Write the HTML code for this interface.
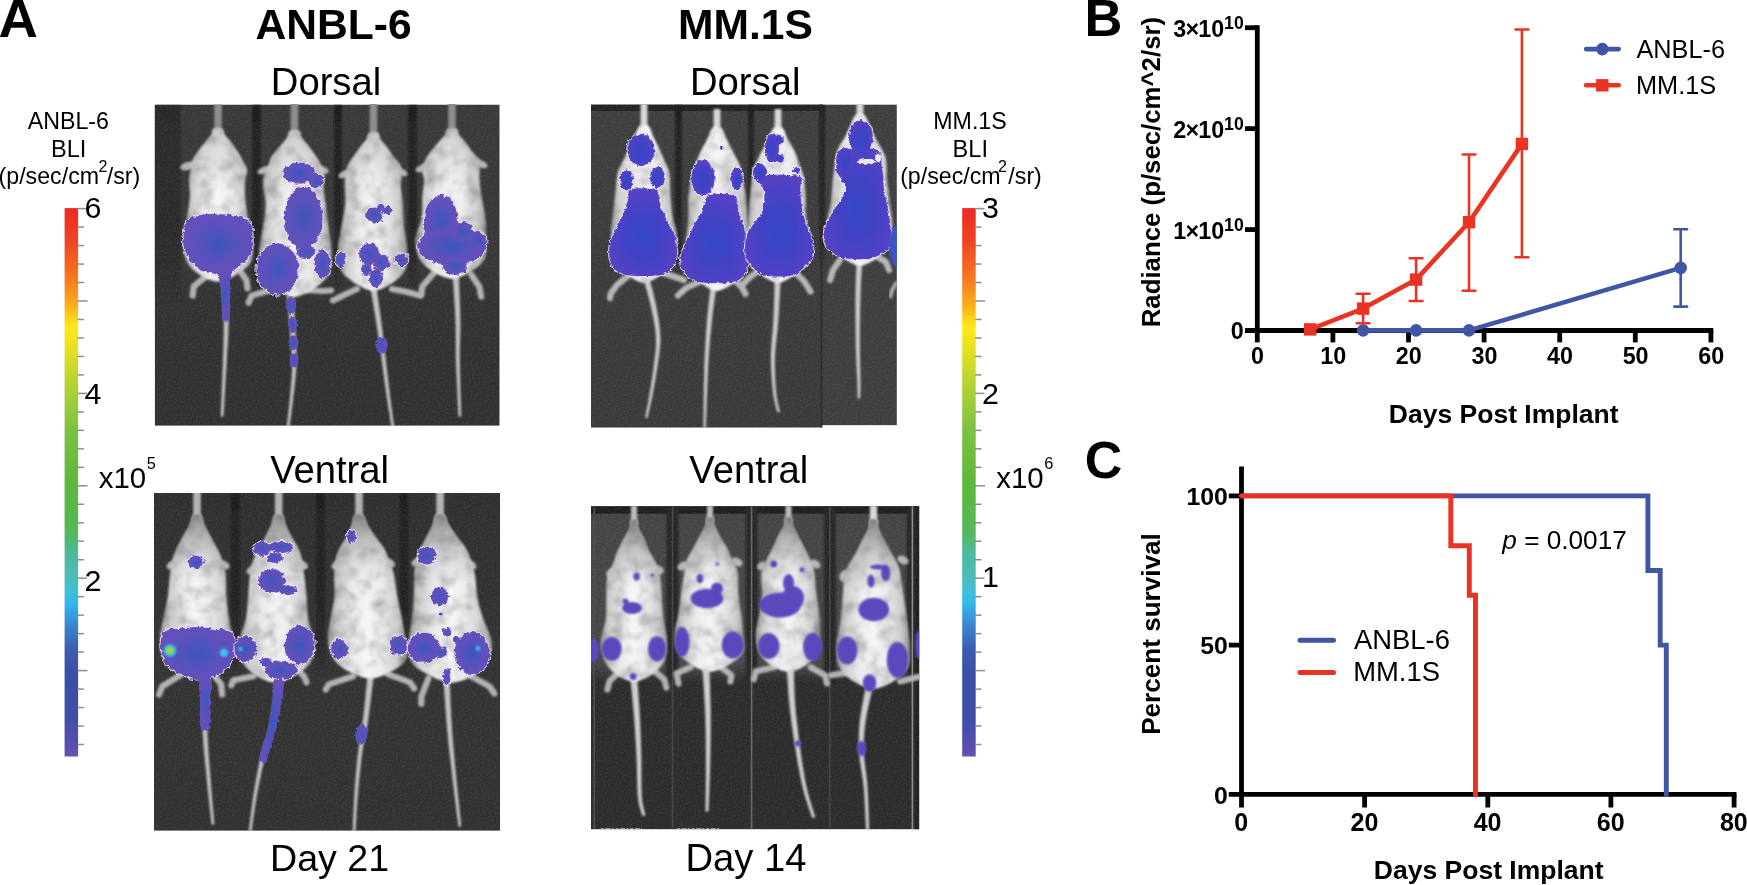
<!DOCTYPE html>
<html lang="en"><head><meta charset="utf-8"><title>ANBL-6 and MM.1S xenograft BLI</title>
<style>
html,body{margin:0;padding:0;background:#fff;}
body{width:1747px;height:885px;overflow:hidden;font-family:"Liberation Sans", sans-serif;}
svg{display:block;font-family:"Liberation Sans", sans-serif;}
text{fill:#000;}
</style></head><body>
<svg width="1747" height="885" viewBox="0 0 1747 885">
<defs>
<linearGradient id="cbar" x1="0" y1="0" x2="0" y2="1">
<stop offset="0" stop-color="#ec2a24"/>
<stop offset="0.06" stop-color="#ef4423"/>
<stop offset="0.13" stop-color="#f47a20"/>
<stop offset="0.18" stop-color="#fbb11a"/>
<stop offset="0.215" stop-color="#ffe81a"/>
<stop offset="0.26" stop-color="#e3e021"/>
<stop offset="0.32" stop-color="#b5d332"/>
<stop offset="0.40" stop-color="#7fc241"/>
<stop offset="0.50" stop-color="#5db83c"/>
<stop offset="0.59" stop-color="#56b858"/>
<stop offset="0.625" stop-color="#4fb89a"/>
<stop offset="0.67" stop-color="#4cbcb4"/>
<stop offset="0.70" stop-color="#3fbfd8"/>
<stop offset="0.721" stop-color="#30b8ea"/>
<stop offset="0.76" stop-color="#3b86cf"/>
<stop offset="0.805" stop-color="#3c5cb0"/>
<stop offset="0.85" stop-color="#3b4fa6"/>
<stop offset="0.93" stop-color="#3f4ea8"/>
<stop offset="0.975" stop-color="#554eb0"/>
<stop offset="1" stop-color="#6a4fb5"/>
</linearGradient>
<linearGradient id="mg" x1="0" y1="0" x2="1" y2="0">
<stop offset="0" stop-color="#9c9c9c"/><stop offset="0.12" stop-color="#cdcdcd"/><stop offset="0.32" stop-color="#ececec"/><stop offset="0.5" stop-color="#f6f6f6"/><stop offset="0.68" stop-color="#ececec"/><stop offset="0.88" stop-color="#cdcdcd"/><stop offset="1" stop-color="#9c9c9c"/>
</linearGradient>
<linearGradient id="mg2" x1="0" y1="0" x2="1" y2="0">
<stop offset="0" stop-color="#808080"/><stop offset="0.2" stop-color="#c2c2c2"/><stop offset="0.5" stop-color="#ebebeb"/><stop offset="0.8" stop-color="#c2c2c2"/><stop offset="1" stop-color="#808080"/>
</linearGradient>
<radialGradient id="pg" cx="0.5" cy="0.5" r="0.5">
<stop offset="0" stop-color="#3a58bf"/><stop offset="0.45" stop-color="#5452bd"/><stop offset="1" stop-color="#6650ba"/>
</radialGradient>
<filter id="fur" x="-8%" y="-8%" width="116%" height="116%">
<feTurbulence type="fractalNoise" baseFrequency="0.075" numOctaves="3" seed="11" result="n"/>
<feColorMatrix in="n" type="matrix" values="0.95 0 0 0 0.44  0.95 0 0 0 0.44  0.95 0 0 0 0.44  0 0 0 0 1" result="g"/>
<feBlend in="SourceGraphic" in2="g" mode="multiply" result="m"/>
<feComposite in="m" in2="SourceGraphic" operator="in" result="c"/>
<feGaussianBlur in="c" stdDeviation="1.3"/>
</filter>
<filter id="grain" x="0" y="0" width="100%" height="100%">
<feTurbulence type="fractalNoise" baseFrequency="0.55" numOctaves="2" seed="2" result="n"/>
<feColorMatrix in="n" type="matrix" values="0 0 0 0 1  0 0 0 0 1  0 0 0 0 1  1.6 0 0 0 -0.62"/>
</filter>
<filter id="soft" x="-10%" y="-10%" width="120%" height="120%"><feGaussianBlur stdDeviation="1.1"/></filter>
<filter id="soft2" x="-10%" y="-10%" width="120%" height="120%"><feGaussianBlur stdDeviation="0.8"/></filter>
<filter id="rough" x="-10%" y="-10%" width="120%" height="120%">
<feTurbulence type="fractalNoise" baseFrequency="0.25" numOctaves="2" seed="7" result="n"/>
<feDisplacementMap in="SourceGraphic" in2="n" scale="5.5" xChannelSelector="R" yChannelSelector="G"/>
<feGaussianBlur stdDeviation="0.5"/>
</filter>
<filter id="rough2" x="-10%" y="-10%" width="120%" height="120%">
<feTurbulence type="fractalNoise" baseFrequency="0.3" numOctaves="2" seed="3" result="n"/>
<feDisplacementMap in="SourceGraphic" in2="n" scale="4" xChannelSelector="R" yChannelSelector="G"/>
<feGaussianBlur stdDeviation="0.5"/>
</filter>
<linearGradient id="hs" x1="0" y1="0" x2="0" y2="1"><stop offset="0" stop-color="#4a4a4a" stop-opacity="0.85"/><stop offset="0.12" stop-color="#555" stop-opacity="0.55"/><stop offset="0.3" stop-color="#666" stop-opacity="0.18"/><stop offset="0.42" stop-color="#666" stop-opacity="0"/></linearGradient>
<linearGradient id="bg1" x1="0" y1="0" x2="0" y2="1"><stop offset="0" stop-color="#393939"/><stop offset="0.5" stop-color="#373737"/><stop offset="0.62" stop-color="#323232"/><stop offset="1" stop-color="#303030"/></linearGradient><linearGradient id="bg2" x1="0" y1="0" x2="0" y2="1"><stop offset="0" stop-color="#2f2f2f"/><stop offset="0.5" stop-color="#333"/><stop offset="1" stop-color="#313131"/></linearGradient>
<linearGradient id="stripe" x1="0" y1="0" x2="0" y2="1"><stop offset="0" stop-color="#1f1f1f"/><stop offset="0.8" stop-color="#262626"/><stop offset="1" stop-color="#262626" stop-opacity="0"/></linearGradient>
<linearGradient id="bg3" x1="0" y1="0" x2="0" y2="1"><stop offset="0" stop-color="#3f3f3f"/><stop offset="0.55" stop-color="#3b3b3b"/><stop offset="1" stop-color="#3a3a3a"/></linearGradient><radialGradient id="pg3" cx="0.5" cy="0.55" r="0.6"><stop offset="0" stop-color="#3346c4"/><stop offset="0.55" stop-color="#4642c6"/><stop offset="1" stop-color="#5a42c2"/></radialGradient><linearGradient id="bg4" x1="0" y1="0" x2="0" y2="1"><stop offset="0" stop-color="#444"/><stop offset="0.9" stop-color="#464646"/><stop offset="1" stop-color="#2c2c2c"/></linearGradient></defs>
<clipPath id="c1"><rect x="154.7" y="104.5" width="345.0" height="321.3"/></clipPath><g clip-path="url(#c1)">
<rect x="154.7" y="104.5" width="345.0" height="321.3" fill="url(#bg1)"/>
<rect x="252" y="104.5" width="9" height="190" fill="url(#stripe)" filter="url(#soft)"/>
<rect x="334" y="104.5" width="8" height="190" fill="url(#stripe)" filter="url(#soft)"/>
<rect x="408" y="104.5" width="9" height="190" fill="url(#stripe)" filter="url(#soft)"/>
<rect x="150.7" y="104.5" width="30" height="200" fill="url(#stripe)" opacity="0.55" filter="url(#soft)"/>
<rect x="154.7" y="104.5" width="345.0" height="321.3" filter="url(#grain)" opacity="0.1"/>
<g filter="url(#soft)">
<path d="M208.9,274.0 L193.7,286.4 L192.7,295.6" fill="none" stroke="#b2b2b2" stroke-width="6.2" stroke-linecap="round" stroke-linejoin="round"/>
<path d="M238.0,268.0 L246.5,280.3 L247.5,288.4" fill="none" stroke="#b2b2b2" stroke-width="6.2" stroke-linecap="round" stroke-linejoin="round"/>
<path d="M221.0,279.2 L221.2,281.2 L221.4,283.8 L221.7,286.8 L222.0,290.1 L222.2,293.8 L222.5,297.6 L222.8,301.6 L223.1,305.7 L223.3,309.7 L223.5,313.7 L223.6,317.5 L223.7,321.0 L223.8,324.4 L223.8,327.7 L223.8,330.9 L223.8,334.0 L223.7,337.2 L223.6,340.4 L223.5,343.6 L223.4,347.0 L223.3,350.4 L223.2,353.9 L223.0,357.6 L222.9,361.5 L222.8,365.8 L222.6,370.5 L222.4,375.5 L222.2,380.8 L221.9,386.2 L221.7,391.5 L221.5,396.7 L221.3,401.7 L221.1,406.2 L220.9,410.3 L220.8,413.7 L220.7,416.4 L223.5,416.6 L223.7,413.9 L223.9,410.4 L224.1,406.4 L224.4,401.8 L224.7,396.9 L225.0,391.7 L225.3,386.3 L225.6,381.0 L225.9,375.7 L226.2,370.6 L226.5,365.9 L226.7,361.7 L226.9,357.8 L227.1,354.1 L227.3,350.6 L227.6,347.2 L227.8,343.8 L228.0,340.6 L228.1,337.4 L228.3,334.2 L228.4,331.0 L228.5,327.7 L228.6,324.4 L228.7,321.0 L228.6,317.4 L228.6,313.5 L228.5,309.5 L228.4,305.4 L228.2,301.3 L228.1,297.3 L227.9,293.4 L227.7,289.8 L227.6,286.4 L227.5,283.4 L227.4,280.9 L227.4,278.8Z" fill="#c2c2c2"/>
<ellipse cx="188" cy="166" rx="8" ry="4" transform="rotate(-15 188 166)" fill="#b5b5b5"/>
<rect x="214.2" y="101.5" width="7.6" height="32.5" fill="#8e8e8e"/>
</g>
<path d="M213.5,129.0C211.6,130.0 212.5,132.8 211.1,135.1C209.6,137.4 207.1,139.8 204.8,142.7C202.5,145.6 199.2,149.5 197.2,152.6C195.1,155.6 193.4,158.0 192.3,160.9C191.2,163.8 191.1,166.7 190.6,170.0C190.0,173.3 189.2,176.1 189.1,180.7C189.0,185.2 190.3,190.8 189.9,197.4C189.5,204.0 187.7,212.9 186.5,220.2C185.4,227.5 183.2,234.6 183.2,241.5C183.2,248.3 183.9,255.8 186.5,261.2C189.1,266.7 194.4,270.9 198.9,274.2C203.4,277.5 209.6,279.9 213.5,281.0C217.4,282.1 218.6,282.1 222.5,281.0C226.4,279.9 232.3,277.5 237.1,274.2C241.9,270.9 248.6,266.7 251.2,261.2C253.9,255.8 253.2,248.3 252.8,241.5C252.3,234.6 249.6,227.5 248.3,220.2C247.1,212.9 245.6,204.0 245.1,197.4C244.5,190.8 244.8,185.2 245.1,180.7C245.5,176.1 247.4,173.3 247.1,170.0C246.7,166.7 244.3,163.8 242.8,160.9C241.3,158.0 240.1,155.6 238.2,152.6C236.2,149.5 233.4,145.6 231.2,142.7C229.0,139.8 226.4,137.4 224.9,135.1C223.5,132.8 224.4,130.0 222.5,129.0C220.6,128.0 215.4,128.0 213.5,129.0Z" fill="url(#mg)" filter="url(#fur)"/>
<path d="M213.5,129.0C211.6,130.0 212.5,132.8 211.1,135.1C209.6,137.4 207.1,139.8 204.8,142.7C202.5,145.6 199.2,149.5 197.2,152.6C195.1,155.6 193.4,158.0 192.3,160.9C191.2,163.8 191.1,166.7 190.6,170.0C190.0,173.3 189.2,176.1 189.1,180.7C189.0,185.2 190.3,190.8 189.9,197.4C189.5,204.0 187.7,212.9 186.5,220.2C185.4,227.5 183.2,234.6 183.2,241.5C183.2,248.3 183.9,255.8 186.5,261.2C189.1,266.7 194.4,270.9 198.9,274.2C203.4,277.5 209.6,279.9 213.5,281.0C217.4,282.1 218.6,282.1 222.5,281.0C226.4,279.9 232.3,277.5 237.1,274.2C241.9,270.9 248.6,266.7 251.2,261.2C253.9,255.8 253.2,248.3 252.8,241.5C252.3,234.6 249.6,227.5 248.3,220.2C247.1,212.9 245.6,204.0 245.1,197.4C244.5,190.8 244.8,185.2 245.1,180.7C245.5,176.1 247.4,173.3 247.1,170.0C246.7,166.7 244.3,163.8 242.8,160.9C241.3,158.0 240.1,155.6 238.2,152.6C236.2,149.5 233.4,145.6 231.2,142.7C229.0,139.8 226.4,137.4 224.9,135.1C223.5,132.8 224.4,130.0 222.5,129.0C220.6,128.0 215.4,128.0 213.5,129.0Z" fill="url(#hs)" opacity="0.3" filter="url(#soft)"/>
<g filter="url(#soft)">
<path d="M274.0,289.0 L251.6,295.6 L248.6,302.7" fill="none" stroke="#b2b2b2" stroke-width="6.2" stroke-linecap="round" stroke-linejoin="round"/>
<path d="M308.0,290.0 L322.0,291.0 L331.0,290.5" fill="none" stroke="#b2b2b2" stroke-width="6.2" stroke-linecap="round" stroke-linejoin="round"/>
<path d="M287.0,294.2 L287.2,296.6 L287.5,299.6 L287.8,303.2 L288.1,307.3 L288.5,311.7 L288.8,316.3 L289.2,321.0 L289.5,325.7 L289.9,330.2 L290.2,334.4 L290.5,338.2 L290.7,341.5 L290.9,344.3 L291.1,346.8 L291.3,349.1 L291.5,351.2 L291.6,353.1 L291.7,354.9 L291.9,356.7 L292.0,358.3 L292.0,360.0 L292.1,361.8 L292.1,363.7 L292.1,365.7 L292.1,367.7 L292.1,369.8 L292.0,371.8 L291.9,373.8 L291.8,375.9 L291.6,378.0 L291.5,380.1 L291.3,382.3 L291.1,384.5 L290.9,386.8 L290.7,389.3 L290.4,391.8 L290.2,394.6 L289.9,397.7 L289.5,401.0 L289.2,404.4 L288.8,407.9 L288.4,411.5 L288.0,414.9 L287.7,418.1 L287.3,421.1 L287.0,423.8 L286.8,426.1 L286.6,427.8 L289.4,428.2 L289.6,426.4 L289.9,424.1 L290.3,421.5 L290.7,418.5 L291.1,415.2 L291.5,411.8 L292.0,408.3 L292.4,404.8 L292.9,401.4 L293.3,398.0 L293.6,395.0 L294.0,392.2 L294.3,389.6 L294.5,387.2 L294.8,384.9 L295.1,382.6 L295.3,380.4 L295.5,378.3 L295.7,376.2 L295.9,374.1 L296.1,372.0 L296.2,370.0 L296.4,367.9 L296.5,365.7 L296.5,363.7 L296.6,361.8 L296.6,360.0 L296.6,358.2 L296.5,356.5 L296.5,354.7 L296.4,352.9 L296.4,350.9 L296.3,348.8 L296.1,346.5 L296.0,344.0 L295.9,341.1 L295.7,337.8 L295.6,334.0 L295.3,329.8 L295.1,325.3 L294.8,320.6 L294.5,315.9 L294.3,311.3 L294.0,306.9 L293.8,302.8 L293.6,299.2 L293.5,296.2 L293.4,293.8Z" fill="#c2c2c2"/>
<ellipse cx="265" cy="170" rx="8" ry="3.5" transform="rotate(-20 265 170)" fill="#b5b5b5"/>
<ellipse cx="323" cy="170" rx="6" ry="3.5" transform="rotate(20 323 170)" fill="#b5b5b5"/>
<rect x="290.7" y="101.5" width="7.6" height="34.5" fill="#8e8e8e"/>
</g>
<path d="M289.8,131.0C287.7,132.1 288.7,135.1 287.2,137.6C285.7,140.1 283.2,142.7 280.6,145.8C278.1,149.0 273.8,153.3 271.8,156.6C269.8,159.9 269.7,162.5 268.4,165.7C267.2,168.8 264.9,172.0 264.1,175.6C263.3,179.1 263.2,182.2 263.5,187.1C263.8,192.0 266.0,198.1 265.8,205.2C265.7,212.4 263.8,222.0 262.7,230.0C261.5,238.0 259.4,245.7 259.0,253.1C258.6,260.5 257.7,268.6 260.2,274.6C262.8,280.5 269.5,285.0 274.4,288.6C279.3,292.1 285.6,294.8 289.8,296.0C293.9,297.2 295.1,297.2 299.2,296.0C303.4,294.8 309.7,292.1 314.6,288.6C319.4,285.0 325.5,280.5 328.4,274.6C331.2,268.6 331.5,260.5 331.5,253.1C331.6,245.7 329.7,238.0 328.8,230.0C327.8,222.0 326.7,212.4 325.8,205.2C324.9,198.1 323.7,192.0 323.4,187.1C323.2,182.2 324.8,179.1 324.4,175.6C324.1,172.0 322.7,168.8 321.3,165.7C320.0,162.5 318.3,159.9 316.1,156.6C313.9,153.3 310.8,149.0 308.4,145.8C306.0,142.7 303.3,140.1 301.8,137.6C300.3,135.1 301.3,132.1 299.2,131.0C297.2,129.9 291.8,129.9 289.8,131.0Z" fill="url(#mg)" filter="url(#fur)"/>
<path d="M289.8,131.0C287.7,132.1 288.7,135.1 287.2,137.6C285.7,140.1 283.2,142.7 280.6,145.8C278.1,149.0 273.8,153.3 271.8,156.6C269.8,159.9 269.7,162.5 268.4,165.7C267.2,168.8 264.9,172.0 264.1,175.6C263.3,179.1 263.2,182.2 263.5,187.1C263.8,192.0 266.0,198.1 265.8,205.2C265.7,212.4 263.8,222.0 262.7,230.0C261.5,238.0 259.4,245.7 259.0,253.1C258.6,260.5 257.7,268.6 260.2,274.6C262.8,280.5 269.5,285.0 274.4,288.6C279.3,292.1 285.6,294.8 289.8,296.0C293.9,297.2 295.1,297.2 299.2,296.0C303.4,294.8 309.7,292.1 314.6,288.6C319.4,285.0 325.5,280.5 328.4,274.6C331.2,268.6 331.5,260.5 331.5,253.1C331.6,245.7 329.7,238.0 328.8,230.0C327.8,222.0 326.7,212.4 325.8,205.2C324.9,198.1 323.7,192.0 323.4,187.1C323.2,182.2 324.8,179.1 324.4,175.6C324.1,172.0 322.7,168.8 321.3,165.7C320.0,162.5 318.3,159.9 316.1,156.6C313.9,153.3 310.8,149.0 308.4,145.8C306.0,142.7 303.3,140.1 301.8,137.6C300.3,135.1 301.3,132.1 299.2,131.0C297.2,129.9 291.8,129.9 289.8,131.0Z" fill="url(#hs)" opacity="0.3" filter="url(#soft)"/>
<g filter="url(#soft)">
<path d="M357.0,289.0 L344.0,295.0 L333.0,300.6" fill="none" stroke="#b2b2b2" stroke-width="6.2" stroke-linecap="round" stroke-linejoin="round"/>
<path d="M392.0,289.0 L407.0,292.0 L420.0,295.6" fill="none" stroke="#b2b2b2" stroke-width="6.2" stroke-linecap="round" stroke-linejoin="round"/>
<path d="M370.3,288.5 L370.7,290.1 L371.0,292.1 L371.5,294.5 L371.9,297.1 L372.4,300.0 L373.0,303.0 L373.5,306.2 L374.0,309.4 L374.6,312.6 L375.1,315.7 L375.6,318.6 L376.0,321.4 L376.4,324.0 L376.8,326.5 L377.2,328.9 L377.6,331.3 L377.9,333.7 L378.3,336.0 L378.6,338.4 L379.0,340.9 L379.4,343.4 L379.8,346.1 L380.1,348.8 L380.6,351.7 L381.0,354.7 L381.4,357.9 L381.9,361.2 L382.3,364.6 L382.8,368.1 L383.2,371.6 L383.7,375.1 L384.2,378.7 L384.6,382.2 L385.1,385.6 L385.6,389.0 L386.0,392.2 L386.5,395.5 L387.0,398.9 L387.6,402.4 L388.1,405.9 L388.6,409.4 L389.2,412.8 L389.7,416.0 L390.1,419.1 L390.6,421.9 L391.0,424.4 L391.3,426.5 L391.6,428.2 L394.4,427.8 L394.2,426.1 L393.9,423.9 L393.5,421.4 L393.2,418.6 L392.7,415.6 L392.3,412.3 L391.8,408.9 L391.3,405.4 L390.9,401.9 L390.4,398.4 L390.0,395.0 L389.6,391.8 L389.2,388.5 L388.8,385.1 L388.3,381.7 L387.9,378.2 L387.5,374.7 L387.1,371.1 L386.7,367.6 L386.3,364.1 L386.0,360.7 L385.6,357.4 L385.2,354.2 L384.8,351.1 L384.5,348.2 L384.2,345.5 L383.9,342.8 L383.6,340.3 L383.3,337.8 L383.0,335.4 L382.7,333.0 L382.4,330.6 L382.1,328.2 L381.8,325.7 L381.5,323.2 L381.2,320.6 L380.8,317.8 L380.4,314.9 L380.0,311.7 L379.5,308.5 L379.1,305.3 L378.6,302.2 L378.2,299.1 L377.8,296.2 L377.4,293.5 L377.1,291.1 L376.8,289.1 L376.7,287.5Z" fill="#c2c2c2"/>
<ellipse cx="345" cy="174" rx="7" ry="3.5" transform="rotate(-25 345 174)" fill="#b5b5b5"/>
<ellipse cx="401" cy="172" rx="7" ry="3.5" transform="rotate(25 401 172)" fill="#b5b5b5"/>
<rect x="369.7" y="101.5" width="7.6" height="36.5" fill="#8e8e8e"/>
</g>
<path d="M368.9,133.0C367.0,134.0 368.0,136.9 366.5,139.3C365.0,141.6 362.4,144.1 360.2,147.1C358.0,150.1 355.2,154.2 353.0,157.3C350.9,160.5 348.8,163.0 347.6,166.0C346.3,169.0 345.9,172.0 345.5,175.4C345.0,178.8 344.8,181.7 344.8,186.4C344.8,191.1 345.9,196.8 345.4,203.7C344.8,210.5 342.7,219.6 341.5,227.2C340.3,234.8 338.2,242.1 338.0,249.2C337.8,256.2 337.7,264.0 340.4,269.6C343.1,275.2 349.5,279.5 354.2,282.9C359.0,286.3 365.0,288.8 368.9,290.0C372.9,291.2 374.1,291.2 378.1,290.0C382.0,288.8 388.2,286.3 392.8,282.9C397.3,279.5 402.9,275.2 405.2,269.6C407.6,264.0 407.2,256.2 406.9,249.2C406.7,242.1 404.6,234.8 403.9,227.2C403.3,219.6 403.4,210.5 402.9,203.7C402.3,196.8 401.1,191.1 400.9,186.4C400.7,181.7 401.6,178.8 401.6,175.4C401.6,172.0 402.1,169.0 400.9,166.0C399.6,163.0 396.4,160.5 394.1,157.3C391.7,154.2 389.1,150.1 386.8,147.1C384.5,144.1 382.0,141.6 380.5,139.3C379.0,136.9 380.0,134.0 378.1,133.0C376.1,132.0 370.9,132.0 368.9,133.0Z" fill="url(#mg)" filter="url(#fur)"/>
<path d="M368.9,133.0C367.0,134.0 368.0,136.9 366.5,139.3C365.0,141.6 362.4,144.1 360.2,147.1C358.0,150.1 355.2,154.2 353.0,157.3C350.9,160.5 348.8,163.0 347.6,166.0C346.3,169.0 345.9,172.0 345.5,175.4C345.0,178.8 344.8,181.7 344.8,186.4C344.8,191.1 345.9,196.8 345.4,203.7C344.8,210.5 342.7,219.6 341.5,227.2C340.3,234.8 338.2,242.1 338.0,249.2C337.8,256.2 337.7,264.0 340.4,269.6C343.1,275.2 349.5,279.5 354.2,282.9C359.0,286.3 365.0,288.8 368.9,290.0C372.9,291.2 374.1,291.2 378.1,290.0C382.0,288.8 388.2,286.3 392.8,282.9C397.3,279.5 402.9,275.2 405.2,269.6C407.6,264.0 407.2,256.2 406.9,249.2C406.7,242.1 404.6,234.8 403.9,227.2C403.3,219.6 403.4,210.5 402.9,203.7C402.3,196.8 401.1,191.1 400.9,186.4C400.7,181.7 401.6,178.8 401.6,175.4C401.6,172.0 402.1,169.0 400.9,166.0C399.6,163.0 396.4,160.5 394.1,157.3C391.7,154.2 389.1,150.1 386.8,147.1C384.5,144.1 382.0,141.6 380.5,139.3C379.0,136.9 380.0,134.0 378.1,133.0C376.1,132.0 370.9,132.0 368.9,133.0Z" fill="url(#hs)" opacity="0.3" filter="url(#soft)"/>
<g filter="url(#soft)">
<path d="M434.5,272.2 L422.3,286.4 L421.3,294.5" fill="none" stroke="#b2b2b2" stroke-width="6.2" stroke-linecap="round" stroke-linejoin="round"/>
<path d="M471.0,274.2 L479.2,286.4 L481.2,296.6" fill="none" stroke="#b2b2b2" stroke-width="6.2" stroke-linecap="round" stroke-linejoin="round"/>
<path d="M452.6,276.2 L452.8,278.3 L453.0,281.1 L453.3,284.3 L453.5,288.0 L453.8,291.9 L454.1,296.1 L454.4,300.4 L454.6,304.8 L454.9,309.1 L455.1,313.3 L455.3,317.3 L455.4,321.1 L455.6,324.5 L455.6,327.9 L455.7,331.1 L455.7,334.3 L455.7,337.5 L455.7,340.7 L455.7,343.9 L455.8,347.2 L455.8,350.5 L455.8,354.1 L455.9,357.8 L456.0,361.6 L456.1,365.9 L456.3,370.6 L456.5,375.7 L456.8,380.9 L457.0,386.3 L457.3,391.7 L457.5,396.9 L457.7,401.8 L458.0,406.4 L458.2,410.4 L458.4,413.9 L458.5,416.6 L461.3,416.4 L461.2,413.7 L461.1,410.3 L461.0,406.2 L460.9,401.7 L460.7,396.7 L460.5,391.5 L460.4,386.2 L460.2,380.8 L460.1,375.5 L460.0,370.5 L459.9,365.8 L459.8,361.6 L459.8,357.7 L459.8,354.0 L459.8,350.6 L459.9,347.2 L460.0,343.9 L460.1,340.7 L460.2,337.5 L460.2,334.3 L460.3,331.1 L460.4,327.8 L460.4,324.5 L460.4,320.9 L460.3,317.2 L460.2,313.1 L460.1,308.9 L459.9,304.5 L459.8,300.1 L459.6,295.8 L459.5,291.6 L459.3,287.7 L459.2,284.0 L459.1,280.8 L459.0,278.0 L459.0,275.8Z" fill="#c2c2c2"/>
<ellipse cx="423" cy="168" rx="8" ry="3.5" transform="rotate(-20 423 168)" fill="#b5b5b5"/>
<ellipse cx="481" cy="164" rx="7" ry="3.5" transform="rotate(25 481 164)" fill="#b5b5b5"/>
<rect x="448.2" y="101.5" width="7.6" height="32.5" fill="#8e8e8e"/>
</g>
<path d="M447.4,129.0C445.4,130.0 446.4,132.7 444.9,135.0C443.4,137.2 440.9,139.6 438.5,142.4C436.1,145.3 432.5,149.1 430.3,152.1C428.1,155.1 426.7,157.4 425.3,160.3C423.8,163.1 421.9,166.0 421.7,169.2C421.5,172.5 424.0,175.2 424.1,179.7C424.3,184.1 422.9,189.6 422.4,196.1C422.0,202.5 422.7,211.2 421.6,218.4C420.4,225.6 415.8,232.6 415.5,239.3C415.1,246.0 416.7,253.3 419.5,258.6C422.3,264.0 427.8,268.1 432.5,271.3C437.1,274.5 443.4,276.9 447.4,278.0C451.4,279.1 452.6,279.1 456.6,278.0C460.6,276.9 466.8,274.5 471.5,271.3C476.2,268.1 482.4,264.0 484.8,258.6C487.2,253.3 485.8,246.0 485.9,239.3C485.9,232.6 485.9,225.6 485.2,218.4C484.5,211.2 482.4,202.5 481.5,196.1C480.5,189.6 479.8,184.1 479.5,179.7C479.2,175.2 479.7,172.5 479.7,169.2C479.7,166.0 480.8,163.1 479.6,160.3C478.3,157.4 474.6,155.1 472.3,152.1C469.9,149.1 467.7,145.3 465.5,142.4C463.3,139.6 460.6,137.2 459.1,135.0C457.6,132.7 458.6,130.0 456.6,129.0C454.7,128.0 449.3,128.0 447.4,129.0Z" fill="url(#mg)" filter="url(#fur)"/>
<path d="M447.4,129.0C445.4,130.0 446.4,132.7 444.9,135.0C443.4,137.2 440.9,139.6 438.5,142.4C436.1,145.3 432.5,149.1 430.3,152.1C428.1,155.1 426.7,157.4 425.3,160.3C423.8,163.1 421.9,166.0 421.7,169.2C421.5,172.5 424.0,175.2 424.1,179.7C424.3,184.1 422.9,189.6 422.4,196.1C422.0,202.5 422.7,211.2 421.6,218.4C420.4,225.6 415.8,232.6 415.5,239.3C415.1,246.0 416.7,253.3 419.5,258.6C422.3,264.0 427.8,268.1 432.5,271.3C437.1,274.5 443.4,276.9 447.4,278.0C451.4,279.1 452.6,279.1 456.6,278.0C460.6,276.9 466.8,274.5 471.5,271.3C476.2,268.1 482.4,264.0 484.8,258.6C487.2,253.3 485.8,246.0 485.9,239.3C485.9,232.6 485.9,225.6 485.2,218.4C484.5,211.2 482.4,202.5 481.5,196.1C480.5,189.6 479.8,184.1 479.5,179.7C479.2,175.2 479.7,172.5 479.7,169.2C479.7,166.0 480.8,163.1 479.6,160.3C478.3,157.4 474.6,155.1 472.3,152.1C469.9,149.1 467.7,145.3 465.5,142.4C463.3,139.6 460.6,137.2 459.1,135.0C457.6,132.7 458.6,130.0 456.6,129.0C454.7,128.0 449.3,128.0 447.4,129.0Z" fill="url(#hs)" opacity="0.3" filter="url(#soft)"/>
<g filter="url(#rough)" fill="#e9dcf3" stroke="#e9dcf3" stroke-width="2.4" opacity="0.85"><path d="M186.0,224.0C188.1,220.5 191.2,217.7 196.0,216.0C200.8,214.3 208.3,214.0 215.0,214.0C221.7,214.0 230.2,214.7 236.0,216.0C241.8,217.3 247.2,218.0 250.0,222.0C252.8,226.0 252.5,234.5 252.5,240.0C252.5,245.5 252.1,250.7 250.0,255.0C247.9,259.3 243.5,263.0 240.0,266.0C236.5,269.0 234.8,272.0 229.0,273.0C223.2,274.0 211.2,273.8 205.0,272.0C198.8,270.2 195.4,265.7 192.0,262.0C188.6,258.3 185.9,254.2 184.5,250.0C183.1,245.8 183.2,241.3 183.5,237.0C183.8,232.7 183.9,227.5 186.0,224.0Z"/></g><g filter="url(#rough)" fill="url(#pg)"><path d="M186.0,224.0C188.1,220.5 191.2,217.7 196.0,216.0C200.8,214.3 208.3,214.0 215.0,214.0C221.7,214.0 230.2,214.7 236.0,216.0C241.8,217.3 247.2,218.0 250.0,222.0C252.8,226.0 252.5,234.5 252.5,240.0C252.5,245.5 252.1,250.7 250.0,255.0C247.9,259.3 243.5,263.0 240.0,266.0C236.5,269.0 234.8,272.0 229.0,273.0C223.2,274.0 211.2,273.8 205.0,272.0C198.8,270.2 195.4,265.7 192.0,262.0C188.6,258.3 185.9,254.2 184.5,250.0C183.1,245.8 183.2,241.3 183.5,237.0C183.8,232.7 183.9,227.5 186.0,224.0Z"/></g>
<g filter="url(#rough2)" fill="url(#pg)"><path d="M219.5,268.0C221.2,264.3 228.7,264.3 230.5,268.0C232.3,271.7 230.6,283.7 230.5,290.0C230.4,296.3 230.2,301.2 230.0,306.0C229.8,310.8 229.7,316.2 229.0,319.0C228.3,321.8 227.1,322.5 226.0,322.5C224.9,322.5 223.2,321.9 222.5,319.0C221.8,316.1 221.8,309.8 221.5,305.0C221.2,300.2 220.8,296.2 220.5,290.0C220.2,283.8 217.8,271.7 219.5,268.0Z"/></g>
<g filter="url(#rough)" fill="#e9dcf3" stroke="#e9dcf3" stroke-width="2.4" opacity="0.85"><ellipse cx="303.5" cy="218" rx="19" ry="31" transform="rotate(0 303.5 218)"/><ellipse cx="299" cy="173" rx="16" ry="10.5" transform="rotate(0 299 173)"/><ellipse cx="316" cy="181" rx="7.5" ry="7" transform="rotate(0 316 181)"/><ellipse cx="277.5" cy="269" rx="21" ry="25.5" transform="rotate(0 277.5 269)"/><ellipse cx="322.5" cy="264" rx="8" ry="14.5" transform="rotate(0 322.5 264)"/><ellipse cx="306" cy="252" rx="9" ry="7" transform="rotate(0 306 252)"/></g><g filter="url(#rough)" fill="url(#pg)"><ellipse cx="303.5" cy="218" rx="19" ry="31" transform="rotate(0 303.5 218)"/><ellipse cx="299" cy="173" rx="16" ry="10.5" transform="rotate(0 299 173)"/><ellipse cx="316" cy="181" rx="7.5" ry="7" transform="rotate(0 316 181)"/><ellipse cx="277.5" cy="269" rx="21" ry="25.5" transform="rotate(0 277.5 269)"/><ellipse cx="322.5" cy="264" rx="8" ry="14.5" transform="rotate(0 322.5 264)"/><ellipse cx="306" cy="252" rx="9" ry="7" transform="rotate(0 306 252)"/></g>
<g filter="url(#rough2)" fill="url(#pg)"><ellipse cx="291" cy="305" rx="5" ry="9" transform="rotate(0 291 305)"/><ellipse cx="292.5" cy="325" rx="4.8" ry="8" transform="rotate(0 292.5 325)"/><ellipse cx="293.5" cy="343" rx="4.6" ry="7.5" transform="rotate(0 293.5 343)"/><ellipse cx="294" cy="360" rx="4.4" ry="7.5" transform="rotate(0 294 360)"/></g>
<g filter="url(#rough)" fill="#e9dcf3" stroke="#e9dcf3" stroke-width="2.4" opacity="0.85"><ellipse cx="374.5" cy="215" rx="8.5" ry="7.5" transform="rotate(0 374.5 215)"/><ellipse cx="387" cy="210.5" rx="5" ry="4" transform="rotate(0 387 210.5)"/><ellipse cx="381" cy="207" rx="4" ry="3" transform="rotate(0 381 207)"/><ellipse cx="369" cy="254" rx="10" ry="11" transform="rotate(0 369 254)"/><ellipse cx="381" cy="262" rx="9" ry="8" transform="rotate(0 381 262)"/><ellipse cx="376" cy="278" rx="7" ry="9.5" transform="rotate(0 376 278)"/><ellipse cx="366" cy="270" rx="5" ry="6" transform="rotate(0 366 270)"/><ellipse cx="340.5" cy="260" rx="5" ry="8" transform="rotate(0 340.5 260)"/><ellipse cx="401.5" cy="260" rx="6.5" ry="6.5" transform="rotate(0 401.5 260)"/></g><g filter="url(#rough)" fill="url(#pg)"><ellipse cx="374.5" cy="215" rx="8.5" ry="7.5" transform="rotate(0 374.5 215)"/><ellipse cx="387" cy="210.5" rx="5" ry="4" transform="rotate(0 387 210.5)"/><ellipse cx="381" cy="207" rx="4" ry="3" transform="rotate(0 381 207)"/><ellipse cx="369" cy="254" rx="10" ry="11" transform="rotate(0 369 254)"/><ellipse cx="381" cy="262" rx="9" ry="8" transform="rotate(0 381 262)"/><ellipse cx="376" cy="278" rx="7" ry="9.5" transform="rotate(0 376 278)"/><ellipse cx="366" cy="270" rx="5" ry="6" transform="rotate(0 366 270)"/><ellipse cx="340.5" cy="260" rx="5" ry="8" transform="rotate(0 340.5 260)"/><ellipse cx="401.5" cy="260" rx="6.5" ry="6.5" transform="rotate(0 401.5 260)"/></g>
<g filter="url(#rough2)" fill="url(#pg)"><ellipse cx="381.8" cy="345.3" rx="6" ry="8.5" transform="rotate(0 381.8 345.3)"/></g>
<g filter="url(#rough)" fill="#e9dcf3" stroke="#e9dcf3" stroke-width="2.4" opacity="0.85"><ellipse cx="441" cy="222" rx="17" ry="27" transform="rotate(0 441 222)"/><ellipse cx="452" cy="246" rx="34" ry="19" transform="rotate(0 452 246)"/><ellipse cx="478" cy="241" rx="8.5" ry="10" transform="rotate(0 478 241)"/><ellipse cx="455" cy="266" rx="12" ry="9" transform="rotate(0 455 266)"/><ellipse cx="463" cy="232" rx="10" ry="10" transform="rotate(0 463 232)"/></g><g filter="url(#rough)" fill="url(#pg)"><ellipse cx="441" cy="222" rx="17" ry="27" transform="rotate(0 441 222)"/><ellipse cx="452" cy="246" rx="34" ry="19" transform="rotate(0 452 246)"/><ellipse cx="478" cy="241" rx="8.5" ry="10" transform="rotate(0 478 241)"/><ellipse cx="455" cy="266" rx="12" ry="9" transform="rotate(0 455 266)"/><ellipse cx="463" cy="232" rx="10" ry="10" transform="rotate(0 463 232)"/></g>
</g>
<clipPath id="c2"><rect x="154.0" y="493.0" width="346.2" height="337.79999999999995"/></clipPath><g clip-path="url(#c2)">
<rect x="154.0" y="493.0" width="346.2" height="337.79999999999995" fill="url(#bg2)"/>
<rect x="231" y="493.0" width="9" height="185" fill="url(#stripe)" filter="url(#soft)"/>
<rect x="316" y="493.0" width="9" height="185" fill="url(#stripe)" filter="url(#soft)"/>
<rect x="399.5" y="493.0" width="9" height="185" fill="url(#stripe)" filter="url(#soft)"/>
<rect x="154.0" y="493.0" width="346.2" height="337.79999999999995" filter="url(#grain)" opacity="0.1"/>
<g filter="url(#soft)">
<path d="M180.5,675.2 L162.2,686.4 L159.1,694.5" fill="none" stroke="#b2b2b2" stroke-width="6.2" stroke-linecap="round" stroke-linejoin="round"/>
<path d="M215.0,676.3 L221.1,684.4 L222.1,694.5" fill="none" stroke="#b2b2b2" stroke-width="6.2" stroke-linecap="round" stroke-linejoin="round"/>
<path d="M201.7,677.0 L201.8,679.5 L201.8,682.6 L201.9,686.3 L201.9,690.4 L201.9,694.9 L201.9,699.7 L201.9,704.6 L201.9,709.7 L202.0,714.7 L202.1,719.7 L202.3,724.5 L202.4,729.1 L202.7,733.5 L203.0,738.0 L203.3,742.6 L203.7,747.1 L204.1,751.7 L204.5,756.3 L204.9,760.8 L205.3,765.2 L205.8,769.6 L206.2,773.9 L206.6,778.1 L207.0,782.2 L207.4,786.2 L207.8,790.4 L208.3,794.5 L208.7,798.7 L209.1,802.8 L209.6,806.8 L210.0,810.6 L210.4,814.1 L210.7,817.3 L211.1,820.2 L211.4,822.7 L211.6,824.7 L214.4,824.5 L214.2,822.4 L214.0,819.9 L213.8,817.0 L213.5,813.8 L213.2,810.2 L212.8,806.5 L212.5,802.5 L212.1,798.4 L211.8,794.2 L211.4,790.0 L211.1,785.9 L210.8,781.8 L210.5,777.8 L210.2,773.6 L209.8,769.3 L209.5,764.9 L209.1,760.4 L208.8,755.9 L208.5,751.4 L208.2,746.8 L207.9,742.3 L207.7,737.8 L207.5,733.3 L207.4,728.9 L207.3,724.4 L207.2,719.6 L207.2,714.7 L207.3,709.7 L207.3,704.6 L207.4,699.7 L207.5,695.0 L207.6,690.5 L207.8,686.4 L207.9,682.7 L208.0,679.5 L208.1,677.0Z" fill="#c2c2c2"/>
<ellipse cx="172" cy="565" rx="6" ry="4" transform="rotate(-30 172 565)" fill="#b5b5b5"/>
<ellipse cx="224" cy="565" rx="6" ry="4" transform="rotate(30 224 565)" fill="#b5b5b5"/>
<rect x="193.2" y="490.0" width="7.6" height="30.0" fill="#b4b4b4"/>
</g>
<path d="M193.0,515.0C191.1,516.6 191.3,521.2 189.7,524.8C188.1,528.3 185.3,532.4 183.2,536.2C181.1,540.0 178.9,543.8 177.1,547.6C175.4,551.4 173.8,554.7 172.7,559.0C171.5,563.4 170.9,567.4 170.1,573.7C169.3,579.9 168.9,589.4 167.9,596.5C166.8,603.6 165.2,609.0 163.9,616.1C162.6,623.1 160.2,631.8 160.0,638.9C159.9,645.9 160.3,653.0 163.1,658.4C165.9,663.9 172.1,668.2 176.9,671.5C181.8,674.7 188.1,676.9 192.3,678.0C196.4,679.1 197.6,679.1 201.7,678.0C205.9,676.9 212.1,674.7 217.1,671.5C222.1,668.2 229.2,663.9 231.7,658.4C234.2,653.0 232.6,645.9 232.1,638.9C231.5,631.8 229.4,623.1 228.5,616.1C227.5,609.0 226.9,603.6 226.4,596.5C226.0,589.4 226.4,579.9 225.6,573.7C224.8,567.4 223.2,563.4 221.7,559.0C220.2,554.7 218.4,551.4 216.5,547.6C214.6,543.8 212.2,540.0 210.2,536.2C208.1,532.4 205.8,528.3 204.3,524.8C202.8,521.2 202.9,516.6 201.0,515.0C199.1,513.4 194.9,513.4 193.0,515.0Z" fill="url(#mg)" filter="url(#fur)"/>
<path d="M193.0,515.0C191.1,516.6 191.3,521.2 189.7,524.8C188.1,528.3 185.3,532.4 183.2,536.2C181.1,540.0 178.9,543.8 177.1,547.6C175.4,551.4 173.8,554.7 172.7,559.0C171.5,563.4 170.9,567.4 170.1,573.7C169.3,579.9 168.9,589.4 167.9,596.5C166.8,603.6 165.2,609.0 163.9,616.1C162.6,623.1 160.2,631.8 160.0,638.9C159.9,645.9 160.3,653.0 163.1,658.4C165.9,663.9 172.1,668.2 176.9,671.5C181.8,674.7 188.1,676.9 192.3,678.0C196.4,679.1 197.6,679.1 201.7,678.0C205.9,676.9 212.1,674.7 217.1,671.5C222.1,668.2 229.2,663.9 231.7,658.4C234.2,653.0 232.6,645.9 232.1,638.9C231.5,631.8 229.4,623.1 228.5,616.1C227.5,609.0 226.9,603.6 226.4,596.5C226.0,589.4 226.4,579.9 225.6,573.7C224.8,567.4 223.2,563.4 221.7,559.0C220.2,554.7 218.4,551.4 216.5,547.6C214.6,543.8 212.2,540.0 210.2,536.2C208.1,532.4 205.8,528.3 204.3,524.8C202.8,521.2 202.9,516.6 201.0,515.0C199.1,513.4 194.9,513.4 193.0,515.0Z" fill="url(#hs)" opacity="0.75" filter="url(#soft)"/>
<g filter="url(#soft)">
<path d="M253.6,676.3 L233.3,680.3 L231.3,685.4" fill="none" stroke="#b2b2b2" stroke-width="6.2" stroke-linecap="round" stroke-linejoin="round"/>
<path d="M300.4,672.2 L304.5,677.0 L306.5,682.4" fill="none" stroke="#b2b2b2" stroke-width="6.2" stroke-linecap="round" stroke-linejoin="round"/>
<path d="M275.8,680.5 L275.6,682.8 L275.2,685.8 L274.8,689.2 L274.3,693.1 L273.8,697.3 L273.2,701.7 L272.6,706.2 L271.9,710.7 L271.3,715.1 L270.6,719.2 L270.0,723.1 L269.4,726.5 L268.7,729.5 L268.0,732.3 L267.3,734.9 L266.6,737.4 L265.9,739.8 L265.1,742.2 L264.3,744.5 L263.6,746.9 L262.8,749.3 L262.1,751.7 L261.4,754.3 L260.7,757.0 L260.1,759.7 L259.4,762.5 L258.8,765.3 L258.2,768.1 L257.7,770.9 L257.1,773.8 L256.6,776.7 L256.0,779.6 L255.5,782.6 L255.0,785.6 L254.5,788.6 L254.0,791.7 L253.4,795.0 L252.9,798.6 L252.4,802.3 L251.9,806.2 L251.3,810.1 L250.8,813.9 L250.4,817.7 L249.9,821.2 L249.5,824.5 L249.2,827.4 L248.9,829.9 L248.6,831.8 L251.4,832.2 L251.7,830.2 L252.1,827.8 L252.5,824.9 L252.9,821.6 L253.4,818.1 L254.0,814.4 L254.5,810.5 L255.1,806.6 L255.7,802.8 L256.3,799.1 L256.9,795.5 L257.4,792.3 L258.0,789.2 L258.6,786.2 L259.2,783.2 L259.8,780.3 L260.4,777.4 L261.0,774.6 L261.6,771.7 L262.2,768.9 L262.9,766.2 L263.5,763.4 L264.2,760.7 L264.9,758.0 L265.6,755.5 L266.4,753.0 L267.1,750.7 L267.9,748.3 L268.8,746.1 L269.6,743.7 L270.4,741.4 L271.3,738.9 L272.1,736.3 L272.9,733.6 L273.7,730.7 L274.4,727.5 L275.2,724.1 L275.9,720.2 L276.7,715.9 L277.4,711.5 L278.1,707.0 L278.8,702.5 L279.5,698.1 L280.2,693.9 L280.7,690.0 L281.3,686.6 L281.7,683.7 L282.2,681.5Z" fill="#c2c2c2"/>
<ellipse cx="252" cy="570" rx="6" ry="4" transform="rotate(-30 252 570)" fill="#b5b5b5"/>
<ellipse cx="302.5" cy="565" rx="6" ry="4" transform="rotate(30 302.5 565)" fill="#b5b5b5"/>
<rect x="274.9" y="490.0" width="7.6" height="30.0" fill="#b4b4b4"/>
</g>
<path d="M274.7,515.0C272.8,516.7 272.8,521.4 271.3,525.0C269.8,528.6 267.7,532.8 265.6,536.7C263.6,540.6 261.0,544.5 258.9,548.4C256.9,552.3 254.8,555.6 253.3,560.1C251.8,564.5 250.8,568.7 250.0,575.1C249.1,581.5 248.7,591.3 248.0,598.5C247.3,605.7 247.4,611.3 246.0,618.5C244.6,625.8 240.1,634.7 239.5,641.9C239.0,649.2 239.9,656.4 242.6,662.0C245.2,667.5 251.0,672.0 255.7,675.3C260.3,678.7 266.6,680.9 270.6,682.0C274.7,683.1 275.9,683.1 280.0,682.0C284.1,680.9 290.1,678.7 295.3,675.3C300.4,672.0 307.7,667.5 310.7,662.0C313.8,656.4 314.2,649.2 313.8,641.9C313.3,634.7 309.2,625.8 308.0,618.5C306.8,611.3 307.4,605.7 306.7,598.5C306.1,591.3 305.0,581.5 304.2,575.1C303.4,568.7 302.9,564.5 301.9,560.1C301.0,555.6 300.1,552.3 298.3,548.4C296.6,544.5 293.5,540.6 291.4,536.7C289.2,532.8 287.1,528.6 285.7,525.0C284.2,521.4 284.5,516.7 282.6,515.0C280.8,513.3 276.6,513.3 274.7,515.0Z" fill="url(#mg)" filter="url(#fur)"/>
<path d="M274.7,515.0C272.8,516.7 272.8,521.4 271.3,525.0C269.8,528.6 267.7,532.8 265.6,536.7C263.6,540.6 261.0,544.5 258.9,548.4C256.9,552.3 254.8,555.6 253.3,560.1C251.8,564.5 250.8,568.7 250.0,575.1C249.1,581.5 248.7,591.3 248.0,598.5C247.3,605.7 247.4,611.3 246.0,618.5C244.6,625.8 240.1,634.7 239.5,641.9C239.0,649.2 239.9,656.4 242.6,662.0C245.2,667.5 251.0,672.0 255.7,675.3C260.3,678.7 266.6,680.9 270.6,682.0C274.7,683.1 275.9,683.1 280.0,682.0C284.1,680.9 290.1,678.7 295.3,675.3C300.4,672.0 307.7,667.5 310.7,662.0C313.8,656.4 314.2,649.2 313.8,641.9C313.3,634.7 309.2,625.8 308.0,618.5C306.8,611.3 307.4,605.7 306.7,598.5C306.1,591.3 305.0,581.5 304.2,575.1C303.4,568.7 302.9,564.5 301.9,560.1C301.0,555.6 300.1,552.3 298.3,548.4C296.6,544.5 293.5,540.6 291.4,536.7C289.2,532.8 287.1,528.6 285.7,525.0C284.2,521.4 284.5,516.7 282.6,515.0C280.8,513.3 276.6,513.3 274.7,515.0Z" fill="url(#hs)" opacity="0.75" filter="url(#soft)"/>
<g filter="url(#soft)">
<path d="M353.2,676.3 L328.8,684.4 L325.8,689.5" fill="none" stroke="#b2b2b2" stroke-width="6.2" stroke-linecap="round" stroke-linejoin="round"/>
<path d="M387.8,674.2 L410.1,682.4 L414.2,688.4" fill="none" stroke="#b2b2b2" stroke-width="6.2" stroke-linecap="round" stroke-linejoin="round"/>
<path d="M367.3,676.6 L367.2,678.8 L366.9,681.6 L366.6,684.9 L366.2,688.6 L365.8,692.6 L365.4,696.8 L365.0,701.1 L364.5,705.4 L364.1,709.6 L363.6,713.6 L363.2,717.3 L362.8,720.6 L362.4,723.6 L362.0,726.3 L361.6,728.9 L361.2,731.3 L360.8,733.7 L360.4,736.0 L360.0,738.3 L359.6,740.6 L359.3,743.0 L358.9,745.6 L358.5,748.2 L358.2,751.1 L357.8,754.2 L357.5,757.3 L357.1,760.6 L356.8,764.0 L356.5,767.4 L356.2,770.9 L355.9,774.4 L355.6,778.0 L355.3,781.5 L355.0,785.0 L354.8,788.5 L354.5,791.9 L354.3,795.4 L354.1,799.1 L353.9,802.9 L353.7,806.8 L353.5,810.6 L353.3,814.5 L353.2,818.1 L353.0,821.6 L352.9,824.8 L352.8,827.6 L352.7,830.0 L352.6,831.9 L355.4,832.1 L355.5,830.1 L355.7,827.7 L355.9,824.9 L356.1,821.7 L356.3,818.3 L356.5,814.6 L356.7,810.8 L357.0,807.0 L357.2,803.1 L357.5,799.3 L357.8,795.6 L358.1,792.1 L358.4,788.8 L358.7,785.3 L359.0,781.8 L359.4,778.3 L359.7,774.8 L360.1,771.3 L360.5,767.8 L360.8,764.4 L361.2,761.1 L361.6,757.8 L362.0,754.7 L362.4,751.7 L362.9,748.9 L363.3,746.2 L363.7,743.8 L364.2,741.4 L364.6,739.1 L365.1,736.9 L365.6,734.6 L366.1,732.2 L366.6,729.7 L367.0,727.1 L367.5,724.4 L368.0,721.4 L368.5,718.0 L369.0,714.3 L369.5,710.2 L370.0,706.0 L370.6,701.7 L371.1,697.4 L371.6,693.2 L372.1,689.2 L372.6,685.6 L373.0,682.3 L373.4,679.5 L373.7,677.4Z" fill="#c2c2c2"/>
<ellipse cx="337" cy="565" rx="6" ry="4" transform="rotate(-30 337 565)" fill="#b5b5b5"/>
<ellipse cx="389.5" cy="563" rx="6" ry="4" transform="rotate(30 389.5 563)" fill="#b5b5b5"/>
<rect x="355.2" y="490.0" width="7.6" height="30.0" fill="#b4b4b4"/>
</g>
<path d="M354.7,515.0C352.8,516.6 353.2,521.2 351.9,524.8C350.6,528.3 348.9,532.4 346.9,536.2C345.0,540.0 342.0,543.8 340.2,547.6C338.3,551.4 336.7,554.7 335.7,559.0C334.7,563.4 334.4,567.4 334.1,573.7C333.9,579.9 335.0,589.4 334.5,596.5C334.0,603.6 332.2,609.0 331.1,616.1C330.1,623.1 327.6,631.8 328.0,638.9C328.4,645.9 330.0,653.0 333.4,658.4C336.8,663.9 343.2,668.2 348.5,671.5C353.8,674.7 360.8,676.9 365.3,678.0C369.8,679.1 371.1,679.1 375.5,678.0C379.8,676.9 386.2,674.7 391.4,671.5C396.6,668.2 404.2,663.9 406.5,658.4C408.8,653.0 406.0,645.9 405.2,638.9C404.3,631.8 402.8,623.1 401.5,616.1C400.1,609.0 398.6,603.6 397.3,596.5C396.0,589.4 395.1,579.9 393.7,573.7C392.2,567.4 390.3,563.4 388.6,559.0C386.9,554.7 385.7,551.4 383.4,547.6C381.1,543.8 377.5,540.0 374.8,536.2C372.2,532.4 369.4,528.3 367.5,524.8C365.6,521.2 365.4,516.6 363.3,515.0C361.2,513.4 356.6,513.4 354.7,515.0Z" fill="url(#mg)" filter="url(#fur)"/>
<path d="M354.7,515.0C352.8,516.6 353.2,521.2 351.9,524.8C350.6,528.3 348.9,532.4 346.9,536.2C345.0,540.0 342.0,543.8 340.2,547.6C338.3,551.4 336.7,554.7 335.7,559.0C334.7,563.4 334.4,567.4 334.1,573.7C333.9,579.9 335.0,589.4 334.5,596.5C334.0,603.6 332.2,609.0 331.1,616.1C330.1,623.1 327.6,631.8 328.0,638.9C328.4,645.9 330.0,653.0 333.4,658.4C336.8,663.9 343.2,668.2 348.5,671.5C353.8,674.7 360.8,676.9 365.3,678.0C369.8,679.1 371.1,679.1 375.5,678.0C379.8,676.9 386.2,674.7 391.4,671.5C396.6,668.2 404.2,663.9 406.5,658.4C408.8,653.0 406.0,645.9 405.2,638.9C404.3,631.8 402.8,623.1 401.5,616.1C400.1,609.0 398.6,603.6 397.3,596.5C396.0,589.4 395.1,579.9 393.7,573.7C392.2,567.4 390.3,563.4 388.6,559.0C386.9,554.7 385.7,551.4 383.4,547.6C381.1,543.8 377.5,540.0 374.8,536.2C372.2,532.4 369.4,528.3 367.5,524.8C365.6,521.2 365.4,516.6 363.3,515.0C361.2,513.4 356.6,513.4 354.7,515.0Z" fill="url(#hs)" opacity="0.75" filter="url(#soft)"/>
<g filter="url(#soft)">
<path d="M428.4,678.3 L421.3,696.6 L421.3,703.7" fill="none" stroke="#b2b2b2" stroke-width="6.2" stroke-linecap="round" stroke-linejoin="round"/>
<path d="M471.0,676.3 L489.4,686.4 L494.4,693.5" fill="none" stroke="#b2b2b2" stroke-width="6.2" stroke-linecap="round" stroke-linejoin="round"/>
<path d="M443.5,682.2 L443.7,684.5 L444.0,687.5 L444.2,690.9 L444.5,694.8 L444.8,699.0 L445.1,703.5 L445.4,708.1 L445.8,712.9 L446.1,717.6 L446.5,722.3 L446.9,726.9 L447.3,731.2 L447.7,735.4 L448.1,739.7 L448.5,744.0 L449.0,748.3 L449.5,752.7 L450.0,757.0 L450.5,761.3 L451.0,765.6 L451.5,769.9 L452.0,774.1 L452.4,778.2 L452.9,782.2 L453.4,786.3 L453.9,790.5 L454.4,794.8 L455.0,799.2 L455.5,803.5 L456.0,807.7 L456.5,811.7 L457.0,815.5 L457.5,818.9 L457.9,822.0 L458.2,824.6 L458.5,826.8 L461.3,826.4 L461.1,824.3 L460.8,821.6 L460.5,818.6 L460.1,815.1 L459.7,811.3 L459.3,807.3 L458.9,803.1 L458.4,798.8 L458.0,794.4 L457.5,790.1 L457.1,785.9 L456.7,781.8 L456.3,777.8 L455.9,773.6 L455.5,769.4 L455.1,765.2 L454.7,760.9 L454.3,756.6 L453.9,752.2 L453.5,747.9 L453.1,743.5 L452.8,739.2 L452.4,735.0 L452.1,730.8 L451.9,726.5 L451.6,722.0 L451.3,717.3 L451.1,712.5 L450.9,707.8 L450.6,703.2 L450.5,698.7 L450.3,694.5 L450.1,690.6 L450.0,687.1 L449.9,684.2 L449.9,681.8Z" fill="#c2c2c2"/>
<ellipse cx="417" cy="562" rx="6" ry="4" transform="rotate(-30 417 562)" fill="#b5b5b5"/>
<ellipse cx="471" cy="565" rx="6" ry="4" transform="rotate(30 471 565)" fill="#b5b5b5"/>
<rect x="436.3" y="490.0" width="7.6" height="30.0" fill="#b4b4b4"/>
</g>
<path d="M435.6,515.0C433.6,516.7 434.2,521.4 432.7,525.0C431.2,528.6 428.8,532.8 426.8,536.7C424.8,540.6 422.5,544.5 420.7,548.4C419.0,552.3 417.2,555.6 416.1,560.1C415.0,564.5 414.7,568.7 414.3,575.1C413.9,581.5 414.1,591.3 413.7,598.5C413.4,605.7 412.9,611.3 412.1,618.5C411.3,625.8 409.1,634.7 409.0,641.9C408.9,649.2 408.2,656.4 411.6,662.0C414.9,667.5 423.3,672.0 429.2,675.3C435.0,678.7 442.0,680.9 446.7,682.0C451.3,683.1 452.7,683.1 457.2,682.0C461.7,680.9 468.6,678.7 473.7,675.3C478.8,672.0 484.9,667.5 487.8,662.0C490.8,656.4 492.2,649.2 491.5,641.9C490.7,634.7 485.4,625.8 483.1,618.5C480.8,611.3 478.9,605.7 477.5,598.5C476.2,591.3 476.1,581.5 474.9,575.1C473.8,568.7 472.4,564.5 470.9,560.1C469.3,555.6 468.1,552.3 465.7,548.4C463.4,544.5 459.7,540.6 456.9,536.7C454.1,532.8 450.9,528.6 448.9,525.0C446.8,521.4 446.7,516.7 444.5,515.0C442.3,513.3 437.6,513.3 435.6,515.0Z" fill="url(#mg)" filter="url(#fur)"/>
<path d="M435.6,515.0C433.6,516.7 434.2,521.4 432.7,525.0C431.2,528.6 428.8,532.8 426.8,536.7C424.8,540.6 422.5,544.5 420.7,548.4C419.0,552.3 417.2,555.6 416.1,560.1C415.0,564.5 414.7,568.7 414.3,575.1C413.9,581.5 414.1,591.3 413.7,598.5C413.4,605.7 412.9,611.3 412.1,618.5C411.3,625.8 409.1,634.7 409.0,641.9C408.9,649.2 408.2,656.4 411.6,662.0C414.9,667.5 423.3,672.0 429.2,675.3C435.0,678.7 442.0,680.9 446.7,682.0C451.3,683.1 452.7,683.1 457.2,682.0C461.7,680.9 468.6,678.7 473.7,675.3C478.8,672.0 484.9,667.5 487.8,662.0C490.8,656.4 492.2,649.2 491.5,641.9C490.7,634.7 485.4,625.8 483.1,618.5C480.8,611.3 478.9,605.7 477.5,598.5C476.2,591.3 476.1,581.5 474.9,575.1C473.8,568.7 472.4,564.5 470.9,560.1C469.3,555.6 468.1,552.3 465.7,548.4C463.4,544.5 459.7,540.6 456.9,536.7C454.1,532.8 450.9,528.6 448.9,525.0C446.8,521.4 446.7,516.7 444.5,515.0C442.3,513.3 437.6,513.3 435.6,515.0Z" fill="url(#hs)" opacity="0.75" filter="url(#soft)"/>
<g filter="url(#rough)" fill="#e9dcf3" stroke="#e9dcf3" stroke-width="2.4" opacity="0.85"><ellipse cx="196.3" cy="562" rx="7.5" ry="6.5" transform="rotate(0 196.3 562)"/></g><g filter="url(#rough)" fill="url(#pg)"><ellipse cx="196.3" cy="562" rx="7.5" ry="6.5" transform="rotate(0 196.3 562)"/></g>
<g filter="url(#rough)" fill="#e9dcf3" stroke="#e9dcf3" stroke-width="2.4" opacity="0.85"><path d="M161.0,640.0C161.7,635.8 162.8,631.8 166.0,630.0C169.2,628.2 174.8,629.5 180.0,629.0C185.2,628.5 191.2,627.0 197.0,627.0C202.8,627.0 209.5,628.3 215.0,629.0C220.5,629.7 226.7,628.3 230.0,631.0C233.3,633.7 234.7,640.2 235.0,645.0C235.3,649.8 234.2,655.5 232.0,660.0C229.8,664.5 225.7,669.0 222.0,672.0C218.3,675.0 213.8,676.7 210.0,678.0C206.2,679.3 203.2,680.3 199.0,680.0C194.8,679.7 189.8,678.0 185.0,676.0C180.2,674.0 173.8,671.5 170.0,668.0C166.2,664.5 163.5,659.7 162.0,655.0C160.5,650.3 160.3,644.2 161.0,640.0Z"/></g><g filter="url(#rough)" fill="url(#pg)"><path d="M161.0,640.0C161.7,635.8 162.8,631.8 166.0,630.0C169.2,628.2 174.8,629.5 180.0,629.0C185.2,628.5 191.2,627.0 197.0,627.0C202.8,627.0 209.5,628.3 215.0,629.0C220.5,629.7 226.7,628.3 230.0,631.0C233.3,633.7 234.7,640.2 235.0,645.0C235.3,649.8 234.2,655.5 232.0,660.0C229.8,664.5 225.7,669.0 222.0,672.0C218.3,675.0 213.8,676.7 210.0,678.0C206.2,679.3 203.2,680.3 199.0,680.0C194.8,679.7 189.8,678.0 185.0,676.0C180.2,674.0 173.8,671.5 170.0,668.0C166.2,664.5 163.5,659.7 162.0,655.0C160.5,650.3 160.3,644.2 161.0,640.0Z"/></g>
<g filter="url(#rough2)" fill="url(#pg)"><path d="M199.5,676.0C201.3,672.0 209.2,672.0 211.0,676.0C212.8,680.0 210.7,691.7 210.5,700.0C210.3,708.3 210.8,720.9 210.0,726.0C209.2,731.1 207.1,730.5 205.5,730.5C203.9,730.5 201.4,731.1 200.5,726.0C199.6,720.9 200.2,708.3 200.0,700.0C199.8,691.7 197.7,680.0 199.5,676.0Z"/></g>
<circle cx="169.9" cy="650.5" r="6.5" fill="#35b8e6" filter="url(#soft2)"/><circle cx="169.9" cy="650.5" r="3.8" fill="#a6d23a" filter="url(#soft2)"/>
<circle cx="224" cy="652.7" r="4.2" fill="#39c3ee" filter="url(#soft2)"/>
<g filter="url(#rough)" fill="#e9dcf3" stroke="#e9dcf3" stroke-width="2.4" opacity="0.85"><ellipse cx="262" cy="549" rx="9" ry="7" transform="rotate(0 262 549)"/><ellipse cx="281" cy="547" rx="12" ry="6" transform="rotate(0 281 547)"/><ellipse cx="275" cy="558" rx="8" ry="5" transform="rotate(0 275 558)"/><ellipse cx="272" cy="581" rx="13" ry="12" transform="rotate(0 272 581)"/><ellipse cx="288" cy="590" rx="9" ry="5" transform="rotate(0 288 590)"/></g><g filter="url(#rough)" fill="url(#pg)"><ellipse cx="262" cy="549" rx="9" ry="7" transform="rotate(0 262 549)"/><ellipse cx="281" cy="547" rx="12" ry="6" transform="rotate(0 281 547)"/><ellipse cx="275" cy="558" rx="8" ry="5" transform="rotate(0 275 558)"/><ellipse cx="272" cy="581" rx="13" ry="12" transform="rotate(0 272 581)"/><ellipse cx="288" cy="590" rx="9" ry="5" transform="rotate(0 288 590)"/></g>
<g filter="url(#rough)" fill="#e9dcf3" stroke="#e9dcf3" stroke-width="2.4" opacity="0.85"><ellipse cx="245.5" cy="649" rx="11" ry="13" transform="rotate(0 245.5 649)"/><ellipse cx="299.5" cy="645" rx="15" ry="19" transform="rotate(0 299.5 645)"/><ellipse cx="281" cy="670" rx="16" ry="9" transform="rotate(0 281 670)"/><ellipse cx="266" cy="662" rx="6" ry="4" transform="rotate(0 266 662)"/></g><g filter="url(#rough)" fill="url(#pg)"><ellipse cx="245.5" cy="649" rx="11" ry="13" transform="rotate(0 245.5 649)"/><ellipse cx="299.5" cy="645" rx="15" ry="19" transform="rotate(0 299.5 645)"/><ellipse cx="281" cy="670" rx="16" ry="9" transform="rotate(0 281 670)"/><ellipse cx="266" cy="662" rx="6" ry="4" transform="rotate(0 266 662)"/></g>
<g filter="url(#rough2)" fill="url(#pg)"><path d="M274.0,682.0C276.0,678.2 282.9,677.3 284.0,682.0C285.1,686.7 281.8,702.0 280.5,710.0C279.2,718.0 277.8,723.3 276.0,730.0C274.2,736.7 271.7,744.7 270.0,750.0C268.3,755.3 267.8,760.3 266.0,762.0C264.2,763.7 260.0,762.8 259.5,760.0C259.0,757.2 261.6,750.5 263.0,745.0C264.4,739.5 266.5,733.7 268.0,727.0C269.5,720.3 271.0,712.5 272.0,705.0C273.0,697.5 272.0,685.8 274.0,682.0Z"/></g>
<circle cx="240.5" cy="649" r="2.2" fill="#39c3ee" filter="url(#soft2)"/>
<g filter="url(#rough)" fill="#e9dcf3" stroke="#e9dcf3" stroke-width="2.4" opacity="0.85"><ellipse cx="351.6" cy="536.3" rx="4.5" ry="6.5" transform="rotate(0 351.6 536.3)"/><ellipse cx="339.5" cy="648.7" rx="8.5" ry="10" transform="rotate(0 339.5 648.7)"/><ellipse cx="398.5" cy="645.5" rx="9" ry="10" transform="rotate(0 398.5 645.5)"/></g><g filter="url(#rough)" fill="url(#pg)"><ellipse cx="351.6" cy="536.3" rx="4.5" ry="6.5" transform="rotate(0 351.6 536.3)"/><ellipse cx="339.5" cy="648.7" rx="8.5" ry="10" transform="rotate(0 339.5 648.7)"/><ellipse cx="398.5" cy="645.5" rx="9" ry="10" transform="rotate(0 398.5 645.5)"/></g>
<g filter="url(#rough2)" fill="url(#pg)"><ellipse cx="361.3" cy="734.2" rx="6" ry="10.5" transform="rotate(8 361.3 734.2)"/></g>
<g filter="url(#rough)" fill="#e9dcf3" stroke="#e9dcf3" stroke-width="2.4" opacity="0.85"><ellipse cx="427" cy="555.5" rx="9.5" ry="9" transform="rotate(0 427 555.5)"/><ellipse cx="439.5" cy="596.2" rx="8.8" ry="9" transform="rotate(0 439.5 596.2)"/><ellipse cx="423.4" cy="647.7" rx="15.4" ry="15" transform="rotate(0 423.4 647.7)"/><ellipse cx="440" cy="652" rx="7" ry="6" transform="rotate(0 440 652)"/><ellipse cx="472" cy="653" rx="17.5" ry="21" transform="rotate(0 472 653)"/><ellipse cx="447" cy="677" rx="4" ry="8" transform="rotate(0 447 677)"/><ellipse cx="447" cy="632" rx="4" ry="5" transform="rotate(0 447 632)"/><ellipse cx="456" cy="640" rx="3" ry="4" transform="rotate(0 456 640)"/><ellipse cx="441" cy="614" rx="1.6" ry="1.6" transform="rotate(0 441 614)"/></g><g filter="url(#rough)" fill="url(#pg)"><ellipse cx="427" cy="555.5" rx="9.5" ry="9" transform="rotate(0 427 555.5)"/><ellipse cx="439.5" cy="596.2" rx="8.8" ry="9" transform="rotate(0 439.5 596.2)"/><ellipse cx="423.4" cy="647.7" rx="15.4" ry="15" transform="rotate(0 423.4 647.7)"/><ellipse cx="440" cy="652" rx="7" ry="6" transform="rotate(0 440 652)"/><ellipse cx="472" cy="653" rx="17.5" ry="21" transform="rotate(0 472 653)"/><ellipse cx="447" cy="677" rx="4" ry="8" transform="rotate(0 447 677)"/><ellipse cx="447" cy="632" rx="4" ry="5" transform="rotate(0 447 632)"/><ellipse cx="456" cy="640" rx="3" ry="4" transform="rotate(0 456 640)"/><ellipse cx="441" cy="614" rx="1.6" ry="1.6" transform="rotate(0 441 614)"/></g>
<circle cx="478" cy="648.4" r="2.4" fill="#39c3ee" filter="url(#soft2)"/>
</g>
<clipPath id="c3"><rect x="591.0" y="104.4" width="305.79999999999995" height="323.29999999999995"/></clipPath><g clip-path="url(#c3)">
<rect x="591.0" y="104.4" width="231.2" height="323.29999999999995" fill="url(#bg3)"/>
<rect x="822" y="104.4" width="75" height="321" fill="#3e3e3e"/>
<rect x="822" y="425.4" width="76" height="4" fill="#fff"/>
<rect x="591.0" y="104.4" width="231.2" height="6.5" fill="#222"/>
<rect x="675" y="104.4" width="7" height="170" fill="url(#stripe)" filter="url(#soft)"/>
<rect x="748" y="104.4" width="6" height="170" fill="url(#stripe)" filter="url(#soft)"/>
<rect x="819" y="104.4" width="6" height="170" fill="url(#stripe)" filter="url(#soft)"/>
<rect x="820.8" y="104.4" width="1.6" height="323.29999999999995" fill="#2a2a2a"/>
<rect x="591.0" y="104.4" width="305.79999999999995" height="323.29999999999995" filter="url(#grain)" opacity="0.1"/>
<g filter="url(#soft)">
<path d="M630.5,273.8 L617.0,285.0 L610.7,293.6 L610.0,298.0" fill="none" stroke="#b6b6b6" stroke-width="6.2" stroke-linecap="round" stroke-linejoin="round"/>
<path d="M660.0,272.0 L672.0,276.0 L684.0,280.0" fill="none" stroke="#b6b6b6" stroke-width="6.2" stroke-linecap="round" stroke-linejoin="round"/>
<path d="M643.3,278.8 L643.8,280.3 L644.3,282.2 L645.0,284.4 L645.7,287.0 L646.5,289.7 L647.3,292.6 L648.1,295.5 L648.9,298.6 L649.7,301.6 L650.4,304.5 L651.1,307.3 L651.7,309.9 L652.2,312.4 L652.7,314.9 L653.2,317.4 L653.7,319.8 L654.1,322.2 L654.5,324.6 L654.9,327.0 L655.2,329.4 L655.5,331.8 L655.7,334.2 L655.9,336.6 L656.0,339.0 L656.0,341.5 L656.0,343.9 L655.9,346.3 L655.7,348.8 L655.5,351.3 L655.3,353.8 L655.0,356.3 L654.7,358.8 L654.3,361.3 L654.0,363.8 L653.7,366.3 L653.4,368.8 L653.1,371.3 L652.7,373.8 L652.4,376.4 L652.0,379.0 L651.6,381.6 L651.2,384.1 L650.8,386.7 L650.3,389.1 L649.9,391.6 L649.5,393.9 L649.2,396.1 L648.8,398.2 L648.5,400.3 L648.1,402.3 L647.7,404.3 L647.4,406.2 L647.0,408.0 L646.7,409.8 L646.3,411.5 L646.0,413.0 L645.8,414.5 L645.5,415.7 L645.3,416.8 L645.1,417.8 L647.5,418.2 L647.7,417.3 L647.9,416.3 L648.2,415.0 L648.6,413.6 L648.9,412.0 L649.3,410.4 L649.7,408.6 L650.1,406.7 L650.5,404.8 L651.0,402.8 L651.4,400.8 L651.8,398.8 L652.2,396.7 L652.6,394.4 L653.1,392.1 L653.5,389.7 L654.0,387.2 L654.5,384.7 L654.9,382.1 L655.4,379.5 L655.8,376.9 L656.2,374.3 L656.6,371.8 L657.0,369.2 L657.4,366.8 L657.8,364.3 L658.2,361.8 L658.5,359.3 L658.9,356.8 L659.3,354.2 L659.6,351.7 L659.8,349.2 L660.1,346.6 L660.3,344.1 L660.4,341.5 L660.4,339.0 L660.3,336.4 L660.2,333.9 L660.1,331.4 L659.8,328.9 L659.5,326.4 L659.2,323.9 L658.9,321.5 L658.5,319.0 L658.1,316.5 L657.6,314.0 L657.2,311.4 L656.7,308.9 L656.2,306.2 L655.6,303.3 L654.9,300.3 L654.2,297.2 L653.5,294.2 L652.7,291.1 L652.0,288.2 L651.3,285.5 L650.6,282.9 L650.1,280.7 L649.6,278.8 L649.3,277.2Z" fill="#cacaca"/>
<rect x="640.6" y="103" width="6.8" height="28.0" fill="#d8d8d8"/>
</g>
<path d="M639.5,126.0C637.2,127.8 636.2,133.0 634.4,136.9C632.6,140.8 630.6,145.2 628.6,149.4C626.6,153.6 624.3,158.0 622.5,161.9C620.6,165.8 618.8,167.9 617.6,172.8C616.5,177.7 616.3,184.2 615.5,191.5C614.7,198.8 613.6,208.7 612.8,216.5C612.0,224.3 610.6,231.0 610.8,238.3C611.0,245.6 611.2,254.2 613.8,260.2C616.4,266.1 622.1,270.6 626.4,274.2C630.7,277.8 636.2,280.7 639.8,282.0C643.5,283.3 644.5,283.3 648.2,282.0C651.8,280.7 657.5,277.8 661.6,274.2C665.7,270.6 669.9,266.1 672.6,260.2C675.2,254.2 677.5,245.6 677.4,238.3C677.4,231.0 673.6,224.3 672.4,216.5C671.2,208.7 670.7,198.8 670.2,191.5C669.7,184.2 670.2,177.7 669.3,172.8C668.5,167.9 666.7,165.8 665.0,161.9C663.4,158.0 661.5,153.6 659.6,149.4C657.7,145.2 655.4,140.8 653.6,136.9C651.8,133.0 650.8,127.8 648.5,126.0C646.1,124.2 641.9,124.2 639.5,126.0Z" fill="url(#mg)" filter="url(#fur)"/>
<g filter="url(#soft)">
<path d="M699.0,282.0 L686.0,288.0 L678.0,295.6" fill="none" stroke="#b6b6b6" stroke-width="6.2" stroke-linecap="round" stroke-linejoin="round"/>
<path d="M734.0,280.0 L742.0,287.0 L745.5,294.0" fill="none" stroke="#b6b6b6" stroke-width="6.2" stroke-linecap="round" stroke-linejoin="round"/>
<path d="M710.7,283.6 L710.6,285.3 L710.4,287.4 L710.1,289.9 L709.8,292.6 L709.5,295.6 L709.2,298.8 L708.8,302.2 L708.4,305.6 L708.1,309.0 L707.7,312.5 L707.4,315.8 L707.1,319.1 L706.9,322.2 L706.6,325.5 L706.4,328.7 L706.1,332.0 L705.9,335.4 L705.7,338.7 L705.5,342.1 L705.3,345.5 L705.1,348.8 L704.9,352.2 L704.7,355.6 L704.6,358.9 L704.5,362.2 L704.3,365.6 L704.2,369.1 L704.2,372.5 L704.1,375.9 L704.0,379.3 L703.9,382.7 L703.9,386.0 L703.8,389.3 L703.8,392.5 L703.8,395.5 L703.7,398.5 L703.7,401.4 L703.6,404.3 L703.6,407.2 L703.6,410.1 L703.5,413.0 L703.5,415.7 L703.5,418.3 L703.5,420.7 L703.5,422.9 L703.5,424.9 L703.5,426.6 L703.5,428.0 L705.9,428.0 L706.0,426.6 L706.0,424.9 L706.1,423.0 L706.2,420.7 L706.2,418.3 L706.3,415.7 L706.4,413.0 L706.5,410.2 L706.6,407.3 L706.7,404.4 L706.8,401.4 L706.9,398.5 L707.0,395.6 L707.1,392.5 L707.2,389.4 L707.3,386.1 L707.5,382.8 L707.6,379.4 L707.7,376.0 L707.9,372.6 L708.0,369.2 L708.2,365.8 L708.4,362.4 L708.6,359.1 L708.8,355.8 L709.1,352.5 L709.3,349.1 L709.6,345.8 L709.9,342.4 L710.1,339.1 L710.4,335.7 L710.8,332.4 L711.1,329.1 L711.4,325.9 L711.7,322.7 L712.1,319.5 L712.4,316.4 L712.8,313.0 L713.2,309.6 L713.7,306.2 L714.2,302.8 L714.6,299.5 L715.1,296.3 L715.5,293.3 L715.9,290.6 L716.3,288.2 L716.6,286.1 L716.9,284.4Z" fill="#cacaca"/>
<rect x="713.6" y="109" width="6.8" height="24.0" fill="#d8d8d8"/>
</g>
<path d="M712.5,128.0C710.1,129.9 709.3,135.3 707.2,139.3C705.2,143.4 702.2,148.0 700.2,152.3C698.2,156.6 696.8,161.2 695.4,165.3C694.0,169.3 692.9,171.5 691.7,176.6C690.6,181.7 689.2,188.5 688.6,196.0C687.9,203.6 688.5,213.9 688.1,222.0C687.6,230.1 685.9,237.1 685.6,244.6C685.3,252.2 683.9,261.1 686.1,267.3C688.4,273.5 694.7,278.1 699.1,281.9C703.6,285.7 709.1,288.6 712.8,290.0C716.5,291.4 717.5,291.4 721.2,290.0C724.9,288.6 730.7,285.7 734.9,281.9C739.0,278.1 743.6,273.5 746.1,267.3C748.5,261.1 749.3,252.2 749.6,244.6C749.8,237.1 748.3,230.1 747.6,222.0C746.9,213.9 746.6,203.6 745.6,196.0C744.7,188.5 742.8,181.7 741.8,176.6C740.8,171.5 741.2,169.3 739.8,165.3C738.3,161.2 735.3,156.6 733.2,152.3C731.0,148.0 728.7,143.4 726.8,139.3C724.8,135.3 723.9,129.9 721.5,128.0C719.2,126.1 714.8,126.1 712.5,128.0Z" fill="url(#mg)" filter="url(#fur)"/>
<g filter="url(#soft)">
<path d="M760.0,270.0 L750.0,277.0 L741.5,285.7" fill="none" stroke="#b6b6b6" stroke-width="6.2" stroke-linecap="round" stroke-linejoin="round"/>
<path d="M794.6,272.0 L804.0,281.0 L810.5,291.6" fill="none" stroke="#b6b6b6" stroke-width="6.2" stroke-linecap="round" stroke-linejoin="round"/>
<path d="M774.7,275.9 L774.7,278.0 L774.7,280.6 L774.6,283.8 L774.5,287.2 L774.4,291.0 L774.3,295.1 L774.2,299.2 L774.0,303.4 L773.9,307.6 L773.7,311.7 L773.6,315.5 L773.4,319.1 L773.2,322.6 L773.0,326.0 L772.8,329.4 L772.5,332.7 L772.2,336.1 L771.9,339.4 L771.7,342.7 L771.4,346.0 L771.2,349.3 L771.0,352.6 L770.9,355.8 L770.9,359.0 L770.9,362.2 L771.0,365.4 L771.1,368.6 L771.3,371.9 L771.5,375.1 L771.7,378.2 L771.9,381.3 L772.2,384.3 L772.5,387.1 L772.7,389.8 L773.0,392.3 L773.3,394.7 L773.6,396.9 L774.0,398.9 L774.4,400.9 L774.8,402.7 L775.2,404.4 L775.6,406.0 L776.0,407.4 L776.4,408.7 L776.8,409.9 L777.1,410.9 L777.4,411.8 L777.6,412.6 L780.0,412.0 L779.8,411.2 L779.6,410.2 L779.3,409.2 L779.0,408.0 L778.7,406.7 L778.3,405.3 L778.0,403.7 L777.6,402.1 L777.3,400.3 L777.0,398.4 L776.7,396.4 L776.5,394.3 L776.3,392.0 L776.0,389.5 L775.8,386.8 L775.6,384.0 L775.4,381.0 L775.3,378.0 L775.1,374.9 L775.0,371.7 L774.9,368.5 L774.9,365.3 L774.9,362.2 L774.9,359.0 L775.0,355.9 L775.2,352.8 L775.4,349.6 L775.7,346.4 L776.0,343.1 L776.4,339.8 L776.7,336.5 L777.1,333.2 L777.5,329.8 L777.8,326.4 L778.1,322.9 L778.4,319.5 L778.6,315.8 L778.9,311.9 L779.1,307.8 L779.3,303.6 L779.6,299.4 L779.8,295.3 L780.0,291.3 L780.2,287.5 L780.4,284.0 L780.6,280.9 L780.7,278.2 L780.9,276.1Z" fill="#cacaca"/>
<rect x="774.6" y="109" width="6.8" height="24.0" fill="#d8d8d8"/>
</g>
<path d="M773.5,128.0C771.2,129.8 770.4,134.9 768.4,138.8C766.4,142.6 763.8,147.0 761.8,151.1C759.7,155.2 757.6,159.6 756.0,163.4C754.5,167.3 753.4,169.3 752.5,174.2C751.5,179.1 751.0,185.5 750.3,192.7C749.6,199.9 748.9,209.6 748.3,217.3C747.7,225.0 746.9,231.7 746.7,238.9C746.5,246.1 745.0,254.5 747.3,260.4C749.6,266.3 756.0,270.7 760.4,274.3C764.8,277.9 770.2,280.7 773.8,282.0C777.5,283.3 778.5,283.3 782.2,282.0C785.8,280.7 791.2,277.9 795.6,274.3C800.0,270.7 806.1,266.3 808.4,260.4C810.7,254.5 809.8,246.1 809.4,238.9C809.1,231.7 807.0,225.0 806.4,217.3C805.7,209.6 805.9,199.9 805.4,192.7C804.9,185.5 804.3,179.1 803.3,174.2C802.2,169.3 800.6,167.3 799.1,163.4C797.6,159.6 796.4,155.2 794.5,151.1C792.6,147.0 789.6,142.6 787.6,138.8C785.6,134.9 784.8,129.8 782.5,128.0C780.1,126.2 775.9,126.2 773.5,128.0Z" fill="url(#mg)" filter="url(#fur)"/>
<g filter="url(#soft)">
<path d="M840.0,260.0 L833.0,270.0 L830.2,280.0" fill="none" stroke="#b6b6b6" stroke-width="6.2" stroke-linecap="round" stroke-linejoin="round"/>
<path d="M878.0,257.0 L886.0,262.0 L889.0,270.0" fill="none" stroke="#b6b6b6" stroke-width="6.2" stroke-linecap="round" stroke-linejoin="round"/>
<path d="M856.4,257.9 L856.4,259.9 L856.4,262.3 L856.3,265.2 L856.2,268.4 L856.1,271.9 L856.0,275.6 L855.8,279.5 L855.7,283.5 L855.6,287.6 L855.5,291.7 L855.5,295.7 L855.4,299.6 L855.4,303.5 L855.4,307.5 L855.4,311.8 L855.4,316.1 L855.5,320.4 L855.5,324.8 L855.6,329.1 L855.6,333.4 L855.7,337.6 L855.7,341.6 L855.8,345.4 L855.9,349.0 L856.0,352.4 L856.1,355.8 L856.2,359.0 L856.3,362.1 L856.5,365.1 L856.6,368.0 L856.7,370.7 L856.9,373.4 L857.0,375.9 L857.1,378.3 L857.2,380.5 L857.3,382.6 L857.4,384.6 L857.4,386.5 L857.5,388.2 L857.5,389.8 L857.5,391.3 L857.6,392.6 L857.6,393.9 L857.6,395.0 L857.6,396.0 L857.6,397.0 L857.7,397.8 L857.7,398.5 L860.1,398.5 L860.1,397.8 L860.2,397.0 L860.2,396.1 L860.3,395.1 L860.3,393.9 L860.4,392.7 L860.4,391.3 L860.4,389.8 L860.5,388.2 L860.5,386.4 L860.5,384.6 L860.5,382.6 L860.5,380.4 L860.4,378.2 L860.4,375.8 L860.3,373.2 L860.3,370.6 L860.2,367.8 L860.1,365.0 L860.1,362.0 L860.0,358.9 L860.0,355.7 L859.9,352.4 L859.9,349.0 L859.9,345.4 L859.9,341.6 L859.9,337.6 L859.9,333.4 L859.9,329.1 L860.0,324.8 L860.0,320.4 L860.1,316.1 L860.1,311.8 L860.2,307.6 L860.3,303.5 L860.4,299.6 L860.5,295.8 L860.6,291.8 L860.8,287.8 L861.0,283.7 L861.2,279.7 L861.4,275.8 L861.7,272.1 L861.9,268.6 L862.1,265.4 L862.3,262.6 L862.4,260.1 L862.6,258.1Z" fill="#cacaca"/>
<rect x="856.6" y="97" width="6.8" height="23.0" fill="#d8d8d8"/>
</g>
<path d="M855.5,115.0C853.2,116.8 852.2,121.8 850.4,125.5C848.6,129.2 846.9,133.5 844.8,137.5C842.6,141.5 839.0,145.8 837.4,149.5C835.9,153.2 836.3,155.2 835.5,160.0C834.8,164.8 833.7,171.0 833.0,178.0C832.2,185.0 832.0,194.5 831.0,202.0C830.1,209.5 827.1,216.0 827.0,223.0C827.0,230.0 828.3,238.2 830.9,244.0C833.4,249.8 838.2,254.0 842.4,257.5C846.6,261.0 852.2,263.8 855.8,265.0C859.5,266.2 860.5,266.2 864.2,265.0C867.8,263.8 873.5,261.0 877.6,257.5C881.7,254.0 886.1,249.8 888.6,244.0C891.1,238.2 892.3,230.0 892.5,223.0C892.7,216.0 890.8,209.5 889.9,202.0C889.0,194.5 887.6,185.0 887.0,178.0C886.3,171.0 887.0,164.8 886.1,160.0C885.3,155.2 883.8,153.2 882.0,149.5C880.2,145.8 877.3,141.5 875.3,137.5C873.2,133.5 871.4,129.2 869.6,125.5C867.8,121.8 866.8,116.8 864.5,115.0C862.1,113.2 857.9,113.2 855.5,115.0Z" fill="url(#mg)" filter="url(#fur)"/>
<g filter="url(#rough2)" fill="#e9dcf3" stroke="#e9dcf3" stroke-width="2.4" opacity="0.85"><path d="M631.0,189.5C626.5,191.2 629.2,196.1 628.0,200.0C626.8,203.9 625.7,208.8 624.0,213.0C622.3,217.2 619.9,221.2 618.0,225.0C616.1,228.8 613.9,232.3 612.6,235.6C611.3,238.9 610.6,242.0 610.0,245.0C609.4,248.0 609.0,250.7 609.2,253.7C609.4,256.7 609.7,260.1 611.0,263.0C612.3,265.9 613.8,268.9 617.0,271.0C620.2,273.1 623.2,274.8 630.0,275.5C636.8,276.2 651.5,276.2 658.0,275.5C664.5,274.8 666.2,273.1 669.0,271.0C671.8,268.9 673.7,265.9 675.0,263.0C676.3,260.1 676.8,256.7 677.0,253.7C677.2,250.7 676.9,248.0 676.5,245.0C676.1,242.0 676.0,238.9 674.8,235.6C673.5,232.3 670.9,228.8 669.0,225.0C667.1,221.2 665.2,217.2 663.5,213.0C661.8,208.8 660.4,203.9 659.0,200.0C657.6,196.1 659.7,191.2 655.0,189.5C650.3,187.8 635.5,187.8 631.0,189.5Z"/><ellipse cx="641" cy="150" rx="13.5" ry="16" transform="rotate(0 641 150)"/><ellipse cx="626.5" cy="180" rx="6.5" ry="10.5" transform="rotate(0 626.5 180)"/><ellipse cx="657.5" cy="177.5" rx="7.5" ry="10.5" transform="rotate(0 657.5 177.5)"/></g><g filter="url(#rough2)" fill="url(#pg3)"><path d="M631.0,189.5C626.5,191.2 629.2,196.1 628.0,200.0C626.8,203.9 625.7,208.8 624.0,213.0C622.3,217.2 619.9,221.2 618.0,225.0C616.1,228.8 613.9,232.3 612.6,235.6C611.3,238.9 610.6,242.0 610.0,245.0C609.4,248.0 609.0,250.7 609.2,253.7C609.4,256.7 609.7,260.1 611.0,263.0C612.3,265.9 613.8,268.9 617.0,271.0C620.2,273.1 623.2,274.8 630.0,275.5C636.8,276.2 651.5,276.2 658.0,275.5C664.5,274.8 666.2,273.1 669.0,271.0C671.8,268.9 673.7,265.9 675.0,263.0C676.3,260.1 676.8,256.7 677.0,253.7C677.2,250.7 676.9,248.0 676.5,245.0C676.1,242.0 676.0,238.9 674.8,235.6C673.5,232.3 670.9,228.8 669.0,225.0C667.1,221.2 665.2,217.2 663.5,213.0C661.8,208.8 660.4,203.9 659.0,200.0C657.6,196.1 659.7,191.2 655.0,189.5C650.3,187.8 635.5,187.8 631.0,189.5Z"/><ellipse cx="641" cy="150" rx="13.5" ry="16" transform="rotate(0 641 150)"/><ellipse cx="626.5" cy="180" rx="6.5" ry="10.5" transform="rotate(0 626.5 180)"/><ellipse cx="657.5" cy="177.5" rx="7.5" ry="10.5" transform="rotate(0 657.5 177.5)"/></g>
<g filter="url(#rough2)" fill="#e9dcf3" stroke="#e9dcf3" stroke-width="2.4" opacity="0.85"><path d="M710.0,195.0C705.0,196.5 705.5,201.0 704.0,204.0C702.5,207.0 702.5,209.5 700.8,213.0C699.1,216.5 695.9,221.2 694.0,225.0C692.1,228.8 691.2,231.9 689.5,235.6C687.8,239.3 685.5,243.2 684.0,247.0C682.5,250.8 680.7,254.5 680.4,258.2C680.1,261.9 680.4,265.8 682.0,269.0C683.6,272.2 686.7,275.2 690.0,277.5C693.3,279.8 695.3,281.7 702.0,282.5C708.7,283.3 723.3,283.3 730.0,282.5C736.7,281.7 739.2,279.8 742.0,277.5C744.8,275.2 746.0,272.2 747.0,269.0C748.0,265.8 748.1,261.9 748.2,258.2C748.3,254.5 747.9,250.8 747.5,247.0C747.1,243.2 746.8,239.3 746.0,235.6C745.2,231.9 744.1,228.8 743.0,225.0C741.9,221.2 740.2,216.5 739.2,213.0C738.2,209.5 737.9,207.0 737.0,204.0C736.1,201.0 738.5,196.5 734.0,195.0C729.5,193.5 715.0,193.5 710.0,195.0Z"/><ellipse cx="703" cy="178" rx="11.5" ry="18" transform="rotate(0 703 178)"/><ellipse cx="737" cy="178.5" rx="5.8" ry="11.5" transform="rotate(0 737 178.5)"/><ellipse cx="721.8" cy="148" rx="1.8" ry="1.8" transform="rotate(0 721.8 148)"/></g><g filter="url(#rough2)" fill="url(#pg3)"><path d="M710.0,195.0C705.0,196.5 705.5,201.0 704.0,204.0C702.5,207.0 702.5,209.5 700.8,213.0C699.1,216.5 695.9,221.2 694.0,225.0C692.1,228.8 691.2,231.9 689.5,235.6C687.8,239.3 685.5,243.2 684.0,247.0C682.5,250.8 680.7,254.5 680.4,258.2C680.1,261.9 680.4,265.8 682.0,269.0C683.6,272.2 686.7,275.2 690.0,277.5C693.3,279.8 695.3,281.7 702.0,282.5C708.7,283.3 723.3,283.3 730.0,282.5C736.7,281.7 739.2,279.8 742.0,277.5C744.8,275.2 746.0,272.2 747.0,269.0C748.0,265.8 748.1,261.9 748.2,258.2C748.3,254.5 747.9,250.8 747.5,247.0C747.1,243.2 746.8,239.3 746.0,235.6C745.2,231.9 744.1,228.8 743.0,225.0C741.9,221.2 740.2,216.5 739.2,213.0C738.2,209.5 737.9,207.0 737.0,204.0C736.1,201.0 738.5,196.5 734.0,195.0C729.5,193.5 715.0,193.5 710.0,195.0Z"/><ellipse cx="703" cy="178" rx="11.5" ry="18" transform="rotate(0 703 178)"/><ellipse cx="737" cy="178.5" rx="5.8" ry="11.5" transform="rotate(0 737 178.5)"/><ellipse cx="721.8" cy="148" rx="1.8" ry="1.8" transform="rotate(0 721.8 148)"/></g>
<g filter="url(#rough2)" fill="#e9dcf3" stroke="#e9dcf3" stroke-width="2.4" opacity="0.85"><path d="M757.0,176.0C750.8,177.7 760.8,182.8 762.0,186.0C763.2,189.2 764.4,190.5 764.4,195.0C764.4,199.5 764.3,207.7 762.0,213.0C759.7,218.3 753.3,222.8 750.8,226.6C748.3,230.4 747.9,233.0 747.0,236.0C746.1,239.0 745.3,241.0 745.2,244.7C745.1,248.4 744.8,254.3 746.3,258.2C747.8,262.1 750.9,265.1 754.0,268.0C757.1,270.9 758.7,274.2 765.0,275.5C771.3,276.8 785.7,276.8 792.0,275.5C798.3,274.2 799.7,270.9 803.0,268.0C806.3,265.1 810.2,262.1 811.9,258.2C813.6,254.3 813.1,248.4 813.0,244.7C812.9,241.0 812.0,239.0 811.0,236.0C810.0,233.0 808.7,230.4 807.3,226.6C805.9,222.8 803.9,218.3 802.8,213.0C801.7,207.7 800.9,199.5 800.5,195.0C800.1,190.5 800.8,189.2 800.5,186.0C800.2,182.8 806.2,177.7 799.0,176.0C791.8,174.3 763.2,174.3 757.0,176.0Z"/><ellipse cx="772" cy="148" rx="7" ry="14" transform="rotate(0 772 148)"/><ellipse cx="779" cy="140" rx="5" ry="5" transform="rotate(0 779 140)"/><ellipse cx="779" cy="158" rx="5" ry="4" transform="rotate(0 779 158)"/><ellipse cx="760" cy="172" rx="7" ry="9" transform="rotate(0 760 172)"/><ellipse cx="796" cy="170.5" rx="4" ry="3.5" transform="rotate(0 796 170.5)"/></g><g filter="url(#rough2)" fill="url(#pg3)"><path d="M757.0,176.0C750.8,177.7 760.8,182.8 762.0,186.0C763.2,189.2 764.4,190.5 764.4,195.0C764.4,199.5 764.3,207.7 762.0,213.0C759.7,218.3 753.3,222.8 750.8,226.6C748.3,230.4 747.9,233.0 747.0,236.0C746.1,239.0 745.3,241.0 745.2,244.7C745.1,248.4 744.8,254.3 746.3,258.2C747.8,262.1 750.9,265.1 754.0,268.0C757.1,270.9 758.7,274.2 765.0,275.5C771.3,276.8 785.7,276.8 792.0,275.5C798.3,274.2 799.7,270.9 803.0,268.0C806.3,265.1 810.2,262.1 811.9,258.2C813.6,254.3 813.1,248.4 813.0,244.7C812.9,241.0 812.0,239.0 811.0,236.0C810.0,233.0 808.7,230.4 807.3,226.6C805.9,222.8 803.9,218.3 802.8,213.0C801.7,207.7 800.9,199.5 800.5,195.0C800.1,190.5 800.8,189.2 800.5,186.0C800.2,182.8 806.2,177.7 799.0,176.0C791.8,174.3 763.2,174.3 757.0,176.0Z"/><ellipse cx="772" cy="148" rx="7" ry="14" transform="rotate(0 772 148)"/><ellipse cx="779" cy="140" rx="5" ry="5" transform="rotate(0 779 140)"/><ellipse cx="779" cy="158" rx="5" ry="4" transform="rotate(0 779 158)"/><ellipse cx="760" cy="172" rx="7" ry="9" transform="rotate(0 760 172)"/><ellipse cx="796" cy="170.5" rx="4" ry="3.5" transform="rotate(0 796 170.5)"/></g>
<g filter="url(#rough2)" fill="#e9dcf3" stroke="#e9dcf3" stroke-width="2.4" opacity="0.85"><path d="M846.0,150.0C839.2,153.0 836.7,162.8 836.0,167.8C835.3,172.8 840.4,176.2 842.0,180.0C843.6,183.8 847.4,184.9 845.8,190.4C844.2,195.9 835.8,206.2 832.2,213.0C828.6,219.8 825.4,225.7 824.3,231.0C823.2,236.3 824.1,241.2 825.4,244.7C826.7,248.2 828.7,249.7 832.0,252.0C835.3,254.3 838.7,257.4 845.0,258.5C851.3,259.6 863.5,259.6 870.0,258.5C876.5,257.4 880.5,254.3 884.0,252.0C887.5,249.7 889.8,248.2 891.0,244.7C892.2,241.2 891.4,236.3 891.0,231.0C890.6,225.7 889.8,219.8 888.7,213.0C887.6,206.2 885.1,195.9 884.2,190.4C883.3,184.9 883.9,183.8 883.5,180.0C883.1,176.2 883.1,172.8 882.0,167.8C880.9,162.8 883.0,153.0 877.0,150.0C871.0,147.0 852.8,147.0 846.0,150.0Z"/><ellipse cx="861" cy="138" rx="12" ry="18" transform="rotate(0 861 138)"/><ellipse cx="845" cy="160" rx="9" ry="12" transform="rotate(0 845 160)"/></g><g filter="url(#rough2)" fill="url(#pg3)"><path d="M846.0,150.0C839.2,153.0 836.7,162.8 836.0,167.8C835.3,172.8 840.4,176.2 842.0,180.0C843.6,183.8 847.4,184.9 845.8,190.4C844.2,195.9 835.8,206.2 832.2,213.0C828.6,219.8 825.4,225.7 824.3,231.0C823.2,236.3 824.1,241.2 825.4,244.7C826.7,248.2 828.7,249.7 832.0,252.0C835.3,254.3 838.7,257.4 845.0,258.5C851.3,259.6 863.5,259.6 870.0,258.5C876.5,257.4 880.5,254.3 884.0,252.0C887.5,249.7 889.8,248.2 891.0,244.7C892.2,241.2 891.4,236.3 891.0,231.0C890.6,225.7 889.8,219.8 888.7,213.0C887.6,206.2 885.1,195.9 884.2,190.4C883.3,184.9 883.9,183.8 883.5,180.0C883.1,176.2 883.1,172.8 882.0,167.8C880.9,162.8 883.0,153.0 877.0,150.0C871.0,147.0 852.8,147.0 846.0,150.0Z"/><ellipse cx="861" cy="138" rx="12" ry="18" transform="rotate(0 861 138)"/><ellipse cx="845" cy="160" rx="9" ry="12" transform="rotate(0 845 160)"/></g>
<g filter="url(#rough2)" fill="#efe9f3"><ellipse cx="866" cy="161.5" rx="9" ry="3.2"/><ellipse cx="878" cy="158" rx="3" ry="5"/><ellipse cx="781.5" cy="148" rx="2.6" ry="5.5"/><ellipse cx="790" cy="171" rx="9" ry="5"/></g>
<ellipse cx="796.5" cy="170.5" rx="3.5" ry="2.5" fill="#4b40c6" filter="url(#rough2)"/>
<ellipse cx="897.5" cy="246" rx="8.5" ry="21" fill="#3d55c8" filter="url(#soft)"/>
<path d="M897,282 L892,290 L890,298" stroke="#aaa" stroke-width="4" fill="none" filter="url(#soft)"/>
</g>
<clipPath id="c4"><rect x="591.0" y="506.2" width="328.20000000000005" height="323.2"/></clipPath><g clip-path="url(#c4)">
<rect x="591.0" y="506.2" width="328.20000000000005" height="323.2" fill="#2c2c2c"/>
<rect x="591.0" y="506.2" width="328.20000000000005" height="176" fill="url(#bg4)"/>
<rect x="591.0" y="506.2" width="328.20000000000005" height="7.5" fill="#1e1e1e"/>
<rect x="593.4000000000001" y="506.2" width="1.6" height="323.2" fill="#4c4c4c"/>
<rect x="666.5" y="506.2" width="12" height="178" fill="#262626" filter="url(#soft)"/>
<rect x="671.7" y="506.2" width="1.6" height="323.2" fill="#454545"/>
<rect x="745.6" y="506.2" width="12" height="178" fill="#262626" filter="url(#soft)"/>
<rect x="750.8000000000001" y="506.2" width="1.6" height="323.2" fill="#686868"/>
<rect x="823.8" y="506.2" width="12" height="178" fill="#262626" filter="url(#soft)"/>
<rect x="829.0" y="506.2" width="1.6" height="323.2" fill="#454545"/>
<rect x="906.4" y="506.2" width="12" height="178" fill="#262626" filter="url(#soft)"/>
<rect x="911.6" y="506.2" width="1.6" height="323.2" fill="#8c8c8c"/>
<rect x="915" y="506.2" width="5" height="323.2" fill="#222"/>
<rect x="591.0" y="506.2" width="328.20000000000005" height="323.2" filter="url(#grain)" opacity="0.1"/>
<g filter="url(#soft)">
<path d="M619.6,671.3 L609.4,681.4 L607.4,689.6" fill="none" stroke="#b2b2b2" stroke-width="6.2" stroke-linecap="round" stroke-linejoin="round"/>
<path d="M652.1,669.2 L664.3,679.4 L666.3,687.5" fill="none" stroke="#b2b2b2" stroke-width="6.2" stroke-linecap="round" stroke-linejoin="round"/>
<path d="M630.2,678.3 L630.5,680.1 L630.7,682.4 L631.0,685.1 L631.3,688.0 L631.7,691.3 L632.0,694.7 L632.4,698.3 L632.7,702.0 L633.1,705.7 L633.4,709.3 L633.7,712.8 L634.0,716.2 L634.3,719.5 L634.5,722.8 L634.7,726.1 L635.0,729.5 L635.2,732.9 L635.4,736.3 L635.6,739.7 L635.8,743.2 L636.0,746.6 L636.2,750.0 L636.3,753.4 L636.5,756.8 L636.7,760.2 L636.8,763.8 L636.9,767.4 L637.0,771.1 L637.0,774.8 L637.1,778.4 L637.2,782.0 L637.3,785.5 L637.4,788.8 L637.6,791.9 L637.7,794.8 L638.0,797.5 L638.3,799.9 L638.6,802.1 L639.0,804.2 L639.4,806.1 L639.9,807.9 L640.4,809.4 L640.8,810.9 L641.3,812.2 L641.7,813.3 L642.0,814.3 L642.3,815.2 L642.5,816.0 L645.5,815.2 L645.3,814.4 L645.0,813.4 L644.7,812.3 L644.4,811.2 L644.0,809.9 L643.7,808.5 L643.3,807.0 L642.9,805.3 L642.6,803.5 L642.3,801.6 L642.0,799.4 L641.8,797.1 L641.7,794.6 L641.6,791.7 L641.5,788.7 L641.5,785.4 L641.4,781.9 L641.4,778.4 L641.4,774.7 L641.4,771.0 L641.4,767.3 L641.4,763.7 L641.4,760.1 L641.3,756.6 L641.2,753.2 L641.1,749.8 L641.0,746.4 L640.9,742.9 L640.8,739.5 L640.7,736.1 L640.5,732.6 L640.4,729.2 L640.3,725.8 L640.1,722.5 L640.0,719.1 L639.8,715.8 L639.6,712.4 L639.4,708.8 L639.2,705.2 L638.9,701.5 L638.7,697.8 L638.4,694.2 L638.2,690.7 L637.9,687.5 L637.7,684.5 L637.6,681.8 L637.4,679.5 L637.4,677.7Z" fill="#cecece"/>
<ellipse cx="611" cy="573" rx="5" ry="4" transform="rotate(-30 611 573)" fill="#b5b5b5"/>
<ellipse cx="659" cy="570" rx="5" ry="4" transform="rotate(30 659 570)" fill="#b5b5b5"/>
<rect x="631.0" y="503.2" width="6.0" height="21.8" fill="#bdbdbd"/>
</g>
<path d="M630.8,520.0C629.5,521.3 630.9,524.8 629.8,528.0C628.6,531.3 625.9,535.3 623.8,539.3C621.8,543.3 619.2,547.9 617.3,552.2C615.4,556.5 614.2,560.8 612.5,565.1C610.8,569.4 608.1,572.1 607.1,578.0C606.0,583.9 606.5,593.5 606.3,600.5C606.1,607.5 606.7,612.8 605.8,619.8C604.8,626.8 600.9,635.4 600.8,642.4C600.7,649.3 602.6,656.3 605.1,661.7C607.7,667.0 612.0,671.3 616.1,674.6C620.2,677.8 626.1,679.9 629.8,681.0C633.5,682.1 634.5,682.1 638.2,681.0C641.9,679.9 647.6,677.8 651.9,674.6C656.2,671.3 661.5,667.0 664.0,661.7C666.5,656.3 667.1,649.3 667.0,642.4C666.9,635.4 664.4,626.8 663.5,619.8C662.7,612.8 662.3,607.5 661.8,600.5C661.3,593.5 661.3,583.9 660.5,578.0C659.8,572.1 659.0,569.4 657.1,565.1C655.3,560.8 651.7,556.5 649.6,552.2C647.4,547.9 646.1,543.3 644.2,539.3C642.3,535.3 639.4,531.3 638.2,528.0C637.1,524.8 638.5,521.3 637.2,520.0C636.0,518.7 632.0,518.7 630.8,520.0Z" fill="url(#mg)" filter="url(#fur)"/>
<path d="M630.8,520.0C629.5,521.3 630.9,524.8 629.8,528.0C628.6,531.3 625.9,535.3 623.8,539.3C621.8,543.3 619.2,547.9 617.3,552.2C615.4,556.5 614.2,560.8 612.5,565.1C610.8,569.4 608.1,572.1 607.1,578.0C606.0,583.9 606.5,593.5 606.3,600.5C606.1,607.5 606.7,612.8 605.8,619.8C604.8,626.8 600.9,635.4 600.8,642.4C600.7,649.3 602.6,656.3 605.1,661.7C607.7,667.0 612.0,671.3 616.1,674.6C620.2,677.8 626.1,679.9 629.8,681.0C633.5,682.1 634.5,682.1 638.2,681.0C641.9,679.9 647.6,677.8 651.9,674.6C656.2,671.3 661.5,667.0 664.0,661.7C666.5,656.3 667.1,649.3 667.0,642.4C666.9,635.4 664.4,626.8 663.5,619.8C662.7,612.8 662.3,607.5 661.8,600.5C661.3,593.5 661.3,583.9 660.5,578.0C659.8,572.1 659.0,569.4 657.1,565.1C655.3,560.8 651.7,556.5 649.6,552.2C647.4,547.9 646.1,543.3 644.2,539.3C642.3,535.3 639.4,531.3 638.2,528.0C637.1,524.8 638.5,521.3 637.2,520.0C636.0,518.7 632.0,518.7 630.8,520.0Z" fill="url(#hs)" opacity="0.8" filter="url(#soft)"/>
<g filter="url(#soft)">
<path d="M690.7,667.2 L676.5,673.3 L678.5,683.5" fill="none" stroke="#b2b2b2" stroke-width="6.2" stroke-linecap="round" stroke-linejoin="round"/>
<path d="M721.2,667.2 L731.4,675.3 L730.4,681.4" fill="none" stroke="#b2b2b2" stroke-width="6.2" stroke-linecap="round" stroke-linejoin="round"/>
<path d="M702.4,669.2 L702.6,671.4 L702.9,674.2 L703.1,677.5 L703.4,681.2 L703.6,685.2 L703.9,689.5 L704.2,693.9 L704.4,698.4 L704.7,703.0 L704.9,707.5 L705.1,711.9 L705.3,716.1 L705.4,720.2 L705.5,724.3 L705.6,728.6 L705.7,732.9 L705.7,737.2 L705.8,741.5 L705.8,745.9 L705.9,750.2 L705.9,754.4 L705.9,758.6 L705.9,762.7 L705.9,766.8 L705.9,770.9 L705.9,775.1 L705.9,779.4 L705.8,783.8 L705.8,788.1 L705.7,792.3 L705.7,796.4 L705.6,800.2 L705.6,803.6 L705.5,806.8 L705.5,809.4 L705.5,811.6 L708.5,811.6 L708.6,809.5 L708.7,806.8 L708.8,803.7 L709.0,800.3 L709.1,796.5 L709.3,792.4 L709.4,788.2 L709.6,783.9 L709.7,779.5 L709.9,775.2 L710.0,770.9 L710.1,766.8 L710.2,762.8 L710.3,758.7 L710.4,754.5 L710.4,750.2 L710.5,745.9 L710.6,741.5 L710.6,737.2 L710.7,732.9 L710.7,728.6 L710.7,724.3 L710.7,720.1 L710.7,715.9 L710.7,711.7 L710.6,707.3 L710.5,702.8 L710.4,698.2 L710.2,693.6 L710.1,689.2 L710.0,684.9 L709.8,680.9 L709.7,677.2 L709.6,673.9 L709.6,671.1 L709.6,668.8Z" fill="#cecece"/>
<ellipse cx="683" cy="566" rx="6" ry="4" transform="rotate(-30 683 566)" fill="#b5b5b5"/>
<ellipse cx="737" cy="562" rx="6" ry="4" transform="rotate(30 737 562)" fill="#b5b5b5"/>
<rect x="707.0" y="503.2" width="6.0" height="19.8" fill="#bdbdbd"/>
</g>
<path d="M706.6,518.0C705.3,519.3 706.7,522.6 705.6,525.6C704.4,528.7 701.8,532.5 699.8,536.4C697.7,540.2 695.5,544.5 693.3,548.6C691.1,552.7 688.0,556.8 686.5,560.8C685.0,564.9 685.2,567.5 684.3,573.1C683.4,578.7 682.0,587.9 681.1,594.5C680.2,601.1 679.9,606.2 678.8,612.9C677.8,619.5 674.7,627.6 674.7,634.3C674.6,640.9 675.6,647.5 678.4,652.6C681.2,657.7 686.8,661.8 691.3,664.9C695.8,667.9 701.7,670.0 705.6,671.0C709.4,672.0 710.6,672.0 714.4,671.0C718.3,670.0 723.9,667.9 728.7,664.9C733.5,661.8 740.8,657.7 743.2,652.6C745.6,647.5 743.4,640.9 743.0,634.3C742.6,627.6 741.8,619.5 741.0,612.9C740.2,606.2 738.9,601.1 738.4,594.5C737.9,587.9 738.8,578.7 737.8,573.1C736.8,567.5 734.4,564.9 732.6,560.8C730.8,556.8 729.4,552.7 727.2,548.6C725.1,544.5 722.0,540.2 719.8,536.4C717.7,532.5 715.5,528.7 714.4,525.6C713.3,522.6 714.7,519.3 713.4,518.0C712.1,516.7 707.9,516.7 706.6,518.0Z" fill="url(#mg)" filter="url(#fur)"/>
<path d="M706.6,518.0C705.3,519.3 706.7,522.6 705.6,525.6C704.4,528.7 701.8,532.5 699.8,536.4C697.7,540.2 695.5,544.5 693.3,548.6C691.1,552.7 688.0,556.8 686.5,560.8C685.0,564.9 685.2,567.5 684.3,573.1C683.4,578.7 682.0,587.9 681.1,594.5C680.2,601.1 679.9,606.2 678.8,612.9C677.8,619.5 674.7,627.6 674.7,634.3C674.6,640.9 675.6,647.5 678.4,652.6C681.2,657.7 686.8,661.8 691.3,664.9C695.8,667.9 701.7,670.0 705.6,671.0C709.4,672.0 710.6,672.0 714.4,671.0C718.3,670.0 723.9,667.9 728.7,664.9C733.5,661.8 740.8,657.7 743.2,652.6C745.6,647.5 743.4,640.9 743.0,634.3C742.6,627.6 741.8,619.5 741.0,612.9C740.2,606.2 738.9,601.1 738.4,594.5C737.9,587.9 738.8,578.7 737.8,573.1C736.8,567.5 734.4,564.9 732.6,560.8C730.8,556.8 729.4,552.7 727.2,548.6C725.1,544.5 722.0,540.2 719.8,536.4C717.7,532.5 715.5,528.7 714.4,525.6C713.3,522.6 714.7,519.3 713.4,518.0C712.1,516.7 707.9,516.7 706.6,518.0Z" fill="url(#hs)" opacity="0.8" filter="url(#soft)"/>
<g filter="url(#soft)">
<path d="M774.1,667.2 L755.8,671.3 L753.8,679.4" fill="none" stroke="#b2b2b2" stroke-width="6.2" stroke-linecap="round" stroke-linejoin="round"/>
<path d="M810.7,667.2 L824.9,675.3 L827.0,683.5" fill="none" stroke="#b2b2b2" stroke-width="6.2" stroke-linecap="round" stroke-linejoin="round"/>
<path d="M786.8,670.2 L787.0,671.9 L787.2,674.0 L787.3,676.5 L787.5,679.2 L787.7,682.3 L787.9,685.5 L788.1,688.9 L788.3,692.4 L788.6,695.9 L788.9,699.3 L789.2,702.8 L789.5,706.1 L789.9,709.3 L790.2,712.6 L790.7,715.9 L791.1,719.3 L791.5,722.7 L792.0,726.2 L792.5,729.6 L793.0,733.1 L793.5,736.6 L794.0,740.0 L794.6,743.4 L795.1,746.9 L795.7,750.3 L796.3,753.8 L796.8,757.3 L797.4,760.8 L798.0,764.3 L798.7,767.8 L799.3,771.3 L800.0,774.8 L800.6,778.1 L801.3,781.4 L802.0,784.6 L802.7,787.6 L803.5,790.7 L804.3,793.7 L805.2,796.8 L806.1,799.8 L807.1,802.7 L808.0,805.5 L808.9,808.2 L809.8,810.7 L810.6,813.0 L811.3,815.0 L811.9,816.7 L812.4,818.1 L815.2,817.3 L814.8,815.8 L814.3,814.0 L813.6,812.0 L812.9,809.7 L812.1,807.1 L811.3,804.5 L810.4,801.7 L809.6,798.7 L808.7,795.8 L807.9,792.7 L807.2,789.7 L806.5,786.8 L805.9,783.8 L805.2,780.6 L804.6,777.4 L804.1,774.0 L803.5,770.6 L802.9,767.1 L802.4,763.6 L801.8,760.1 L801.3,756.6 L800.8,753.1 L800.3,749.6 L799.9,746.1 L799.4,742.7 L798.9,739.3 L798.5,735.9 L798.1,732.4 L797.7,729.0 L797.3,725.5 L796.9,722.1 L796.5,718.7 L796.2,715.3 L795.8,712.0 L795.6,708.7 L795.3,705.5 L795.1,702.3 L794.9,698.9 L794.7,695.5 L794.5,692.0 L794.4,688.6 L794.3,685.2 L794.2,682.0 L794.1,679.0 L794.1,676.2 L794.0,673.7 L794.0,671.5 L794.0,669.8Z" fill="#cecece"/>
<ellipse cx="762" cy="566" rx="5" ry="4" transform="rotate(-30 762 566)" fill="#b5b5b5"/>
<ellipse cx="815" cy="564" rx="6" ry="4" transform="rotate(30 815 564)" fill="#b5b5b5"/>
<rect x="785.5" y="503.2" width="6.0" height="19.8" fill="#bdbdbd"/>
</g>
<path d="M785.2,518.0C783.9,519.3 785.4,522.6 784.2,525.6C783.0,528.7 780.0,532.5 778.1,536.4C776.2,540.2 774.7,544.5 772.6,548.6C770.6,552.7 767.8,556.8 765.9,560.8C764.0,564.9 762.0,567.5 761.4,573.1C760.8,578.7 762.4,587.9 762.1,594.5C761.9,601.1 761.0,606.2 759.9,612.9C758.9,619.5 756.0,627.6 755.9,634.3C755.8,640.9 756.8,647.5 759.2,652.6C761.6,657.7 766.2,661.8 770.4,664.9C774.5,667.9 780.5,670.0 784.2,671.0C788.0,672.0 789.0,672.0 792.8,671.0C796.5,670.0 802.5,667.9 806.6,664.9C810.8,661.8 815.5,657.7 817.7,652.6C819.9,647.5 819.7,640.9 819.9,634.3C820.1,627.6 819.5,619.5 818.9,612.9C818.4,606.2 817.2,601.1 816.4,594.5C815.7,587.9 815.3,578.7 814.4,573.1C813.4,567.5 812.3,564.9 810.7,560.8C809.0,556.8 806.7,552.7 804.6,548.6C802.6,544.5 800.3,540.2 798.4,536.4C796.4,532.5 793.9,528.7 792.8,525.6C791.7,522.6 793.1,519.3 791.8,518.0C790.5,516.7 786.5,516.7 785.2,518.0Z" fill="url(#mg)" filter="url(#fur)"/>
<path d="M785.2,518.0C783.9,519.3 785.4,522.6 784.2,525.6C783.0,528.7 780.0,532.5 778.1,536.4C776.2,540.2 774.7,544.5 772.6,548.6C770.6,552.7 767.8,556.8 765.9,560.8C764.0,564.9 762.0,567.5 761.4,573.1C760.8,578.7 762.4,587.9 762.1,594.5C761.9,601.1 761.0,606.2 759.9,612.9C758.9,619.5 756.0,627.6 755.9,634.3C755.8,640.9 756.8,647.5 759.2,652.6C761.6,657.7 766.2,661.8 770.4,664.9C774.5,667.9 780.5,670.0 784.2,671.0C788.0,672.0 789.0,672.0 792.8,671.0C796.5,670.0 802.5,667.9 806.6,664.9C810.8,661.8 815.5,657.7 817.7,652.6C819.9,647.5 819.7,640.9 819.9,634.3C820.1,627.6 819.5,619.5 818.9,612.9C818.4,606.2 817.2,601.1 816.4,594.5C815.7,587.9 815.3,578.7 814.4,573.1C813.4,567.5 812.3,564.9 810.7,560.8C809.0,556.8 806.7,552.7 804.6,548.6C802.6,544.5 800.3,540.2 798.4,536.4C796.4,532.5 793.9,528.7 792.8,525.6C791.7,522.6 793.1,519.3 791.8,518.0C790.5,516.7 786.5,516.7 785.2,518.0Z" fill="url(#hs)" opacity="0.8" filter="url(#soft)"/>
<g filter="url(#soft)">
<path d="M849.0,672.5 L839.0,674.0 L831.0,675.3" fill="none" stroke="#b2b2b2" stroke-width="6.2" stroke-linecap="round" stroke-linejoin="round"/>
<path d="M900.0,681.4 L910.0,679.0 L918.0,677.0" fill="none" stroke="#b2b2b2" stroke-width="6.2" stroke-linecap="round" stroke-linejoin="round"/>
<path d="M865.5,687.3 L865.2,689.0 L864.9,691.1 L864.4,693.5 L863.9,696.3 L863.3,699.3 L862.7,702.5 L862.1,705.8 L861.5,709.2 L861.0,712.5 L860.5,715.8 L860.0,718.9 L859.7,721.8 L859.5,724.5 L859.2,727.1 L859.1,729.7 L858.9,732.2 L858.8,734.7 L858.8,737.2 L858.7,739.7 L858.7,742.2 L858.8,744.8 L858.8,747.4 L859.0,750.0 L859.1,752.7 L859.3,755.5 L859.6,758.3 L859.9,761.0 L860.3,763.8 L860.8,766.6 L861.2,769.4 L861.7,772.3 L862.1,775.2 L862.6,778.1 L863.0,781.1 L863.4,784.2 L863.7,787.4 L864.0,790.7 L864.2,794.5 L864.5,798.4 L864.7,802.5 L864.9,806.7 L865.1,810.8 L865.3,814.9 L865.5,818.7 L865.7,822.2 L865.8,825.3 L866.0,828.0 L866.1,830.1 L869.1,829.9 L869.0,827.8 L869.0,825.2 L868.9,822.1 L868.8,818.5 L868.7,814.7 L868.6,810.7 L868.4,806.5 L868.3,802.4 L868.1,798.2 L867.9,794.2 L867.7,790.5 L867.5,787.0 L867.3,783.8 L867.0,780.7 L866.6,777.6 L866.3,774.6 L865.9,771.7 L865.5,768.8 L865.1,766.0 L864.8,763.2 L864.5,760.5 L864.2,757.8 L864.0,755.1 L863.9,752.5 L863.8,749.8 L863.8,747.3 L863.8,744.8 L863.8,742.3 L863.9,739.8 L864.0,737.4 L864.2,735.0 L864.4,732.6 L864.6,730.1 L864.9,727.6 L865.2,725.1 L865.5,722.4 L865.9,719.7 L866.4,716.7 L867.0,713.6 L867.6,710.3 L868.3,707.0 L869.0,703.8 L869.7,700.6 L870.4,697.7 L871.0,694.9 L871.6,692.5 L872.1,690.4 L872.5,688.7Z" fill="#cecece"/>
<ellipse cx="846" cy="576" rx="7" ry="6" transform="rotate(-30 846 576)" fill="#b5b5b5"/>
<ellipse cx="903" cy="560" rx="6" ry="4" transform="rotate(30 903 560)" fill="#b5b5b5"/>
<rect x="869.9" y="503.2" width="7.2" height="21.8" fill="#d8d8d8"/>
</g>
<path d="M869.9,520.0C868.5,521.4 870.0,525.0 868.8,528.4C867.5,531.8 864.7,536.0 862.5,540.2C860.4,544.4 858.3,549.1 855.9,553.6C853.4,558.1 849.6,562.6 847.6,567.0C845.6,571.5 844.8,574.3 843.9,580.5C843.0,586.6 842.9,596.7 842.3,604.0C841.6,611.3 841.0,616.9 840.1,624.2C839.1,631.4 836.6,640.4 836.6,647.7C836.5,655.0 837.0,662.2 839.9,667.8C842.7,673.4 848.6,677.9 853.4,681.3C858.2,684.6 864.6,686.9 868.8,688.0C872.9,689.1 874.1,689.1 878.2,688.0C882.4,686.9 888.6,684.6 893.6,681.3C898.5,677.9 905.2,673.4 907.9,667.8C910.5,662.2 909.6,655.0 909.6,647.7C909.5,640.4 908.4,631.4 907.6,624.2C906.8,616.9 905.8,611.3 904.8,604.0C903.8,596.7 902.4,586.6 901.3,580.5C900.3,574.3 900.2,571.5 898.6,567.0C897.0,562.6 893.9,558.1 891.5,553.6C889.1,549.1 886.4,544.4 884.2,540.2C882.0,536.0 879.4,531.8 878.2,528.4C877.1,525.0 878.5,521.4 877.1,520.0C875.8,518.6 871.2,518.6 869.9,520.0Z" fill="url(#mg)" filter="url(#fur)"/>
<path d="M869.9,520.0C868.5,521.4 870.0,525.0 868.8,528.4C867.5,531.8 864.7,536.0 862.5,540.2C860.4,544.4 858.3,549.1 855.9,553.6C853.4,558.1 849.6,562.6 847.6,567.0C845.6,571.5 844.8,574.3 843.9,580.5C843.0,586.6 842.9,596.7 842.3,604.0C841.6,611.3 841.0,616.9 840.1,624.2C839.1,631.4 836.6,640.4 836.6,647.7C836.5,655.0 837.0,662.2 839.9,667.8C842.7,673.4 848.6,677.9 853.4,681.3C858.2,684.6 864.6,686.9 868.8,688.0C872.9,689.1 874.1,689.1 878.2,688.0C882.4,686.9 888.6,684.6 893.6,681.3C898.5,677.9 905.2,673.4 907.9,667.8C910.5,662.2 909.6,655.0 909.6,647.7C909.5,640.4 908.4,631.4 907.6,624.2C906.8,616.9 905.8,611.3 904.8,604.0C903.8,596.7 902.4,586.6 901.3,580.5C900.3,574.3 900.2,571.5 898.6,567.0C897.0,562.6 893.9,558.1 891.5,553.6C889.1,549.1 886.4,544.4 884.2,540.2C882.0,536.0 879.4,531.8 878.2,528.4C877.1,525.0 878.5,521.4 877.1,520.0C875.8,518.6 871.2,518.6 869.9,520.0Z" fill="url(#hs)" opacity="0.8" filter="url(#soft)"/>
<g filter="url(#soft2)" fill="#5a48bd"><ellipse cx="636.6" cy="576.5" rx="3.2" ry="4" transform="rotate(0 636.6 576.5)"/><ellipse cx="652.4" cy="575.3" rx="1.8" ry="1.8" transform="rotate(0 652.4 575.3)"/><ellipse cx="632" cy="608" rx="10" ry="6" transform="rotate(0 632 608)"/><ellipse cx="625.5" cy="601.5" rx="3" ry="2.8" transform="rotate(0 625.5 601.5)"/><ellipse cx="611.7" cy="648.8" rx="10" ry="12" transform="rotate(0 611.7 648.8)"/><ellipse cx="657" cy="648.8" rx="9" ry="12.5" transform="rotate(0 657 648.8)"/><ellipse cx="633.2" cy="676.6" rx="3.5" ry="3.5" transform="rotate(0 633.2 676.6)"/><ellipse cx="593" cy="650" rx="6" ry="12" transform="rotate(0 593 650)"/><ellipse cx="699.9" cy="578.7" rx="3.2" ry="4.6" transform="rotate(0 699.9 578.7)"/><ellipse cx="717.3" cy="564" rx="1.8" ry="1.8" transform="rotate(0 717.3 564)"/><ellipse cx="707" cy="598.5" rx="16.4" ry="9.6" transform="rotate(0 707 598.5)"/><ellipse cx="717" cy="588.5" rx="6" ry="6" transform="rotate(0 717 588.5)"/><ellipse cx="682" cy="642" rx="7.5" ry="15" transform="rotate(0 682 642)"/><ellipse cx="732.7" cy="645" rx="11" ry="13.5" transform="rotate(0 732.7 645)"/><ellipse cx="773.7" cy="564" rx="3.4" ry="3.4" transform="rotate(0 773.7 564)"/><ellipse cx="802" cy="569.7" rx="2.5" ry="2.5" transform="rotate(0 802 569.7)"/><ellipse cx="780" cy="605" rx="21" ry="12.5" transform="rotate(0 780 605)"/><ellipse cx="793" cy="598" rx="11" ry="12" transform="rotate(0 793 598)"/><ellipse cx="788.5" cy="583" rx="5.5" ry="9" transform="rotate(0 788.5 583)"/><ellipse cx="768.7" cy="646" rx="10.7" ry="13" transform="rotate(0 768.7 646)"/><ellipse cx="812.7" cy="647" rx="9.7" ry="14" transform="rotate(0 812.7 647)"/><ellipse cx="798.1" cy="743.5" rx="3.4" ry="3.0" transform="rotate(0 798.1 743.5)"/><ellipse cx="885.7" cy="573" rx="4.6" ry="8.5" transform="rotate(0 885.7 573)"/><ellipse cx="871" cy="581" rx="3.6" ry="6.5" transform="rotate(0 871 581)"/><ellipse cx="878" cy="567" rx="8" ry="2.5" transform="rotate(0 878 567)"/><ellipse cx="873.8" cy="609.5" rx="15.3" ry="11.8" transform="rotate(0 873.8 609.5)"/><ellipse cx="847.2" cy="650.5" rx="10.2" ry="14" transform="rotate(0 847.2 650.5)"/><ellipse cx="897.5" cy="660" rx="10.7" ry="18" transform="rotate(0 897.5 660)"/><ellipse cx="869.6" cy="683" rx="6.8" ry="8.8" transform="rotate(0 869.6 683)"/><ellipse cx="861.5" cy="748.5" rx="4.8" ry="7.5" transform="rotate(0 861.5 748.5)"/><ellipse cx="918.5" cy="645" rx="3.5" ry="14" transform="rotate(0 918.5 645)"/></g>
<path d="M601,828.6H642M677,828.6H719" stroke="#9a9a9a" stroke-width="1.4" stroke-dasharray="3 1.6 5 1.2 2 1.8" fill="none"/>
</g>
<text x="-1.6" y="36.5" font-size="54.5" font-weight="bold" text-anchor="start" >A</text>
<text x="1084.4" y="35.8" font-size="52.5" font-weight="bold" text-anchor="start" >B</text>
<text x="1084.8" y="478.3" font-size="52" font-weight="bold" text-anchor="start" >C</text>
<text x="333.6" y="38.9" font-size="42.6" font-weight="bold" text-anchor="middle" >ANBL-6</text>
<text x="745.4" y="38.9" font-size="42.6" font-weight="bold" text-anchor="middle" >MM.1S</text>
<text x="326.0" y="95" font-size="38.2" font-weight="normal" text-anchor="middle" >Dorsal</text>
<text x="745.2" y="95" font-size="38.2" font-weight="normal" text-anchor="middle" >Dorsal</text>
<text x="329.6" y="482.6" font-size="38.2" font-weight="normal" text-anchor="middle" >Ventral</text>
<text x="748.8" y="482.6" font-size="38.2" font-weight="normal" text-anchor="middle" >Ventral</text>
<text x="329.6" y="871" font-size="37.6" font-weight="normal" text-anchor="middle" >Day 21</text>
<text x="746.0" y="871" font-size="38.2" font-weight="normal" text-anchor="middle" >Day 14</text>
<text x="68.4" y="128.7" font-size="23.2" font-weight="normal" text-anchor="middle" >ANBL-6</text>
<text x="68.7" y="156.6" font-size="23.6" font-weight="normal" text-anchor="middle" >BLI</text>
<text x="69.4" y="184.1" font-size="23.2" text-anchor="middle">(p/sec/cm<tspan dx="-0.6" dy="-12" font-size="16">2</tspan><tspan dx="-0.6" dy="12">/sr)</tspan></text>
<text x="970.0" y="128.7" font-size="23.2" font-weight="normal" text-anchor="middle" >MM.1S</text>
<text x="970.3" y="156.6" font-size="23.6" font-weight="normal" text-anchor="middle" >BLI</text>
<text x="971.0" y="184.1" font-size="23.2" text-anchor="middle">(p/sec/cm<tspan dx="-2.6" dy="-12" font-size="16">2</tspan><tspan dx="1.4000000000000001" dy="12">/sr)</tspan></text>
<rect x="64.6" y="208.1" width="13.5" height="548.4" fill="url(#cbar)"/>
<line x1="77.6" y1="208.60" x2="86.89999999999999" y2="208.60" stroke="#8f8a93" stroke-width="1.5"/>
<line x1="77.6" y1="227.08" x2="83.89999999999999" y2="227.08" stroke="#8f8a93" stroke-width="1.5"/>
<line x1="77.6" y1="245.56" x2="83.89999999999999" y2="245.56" stroke="#8f8a93" stroke-width="1.5"/>
<line x1="77.6" y1="264.04" x2="83.89999999999999" y2="264.04" stroke="#8f8a93" stroke-width="1.5"/>
<line x1="77.6" y1="282.52" x2="83.89999999999999" y2="282.52" stroke="#8f8a93" stroke-width="1.5"/>
<line x1="77.6" y1="301.00" x2="87.5" y2="301.00" stroke="#8f8a93" stroke-width="1.5"/>
<line x1="77.6" y1="319.48" x2="83.89999999999999" y2="319.48" stroke="#8f8a93" stroke-width="1.5"/>
<line x1="77.6" y1="337.96" x2="83.89999999999999" y2="337.96" stroke="#8f8a93" stroke-width="1.5"/>
<line x1="77.6" y1="356.44" x2="83.89999999999999" y2="356.44" stroke="#8f8a93" stroke-width="1.5"/>
<line x1="77.6" y1="374.92" x2="83.89999999999999" y2="374.92" stroke="#8f8a93" stroke-width="1.5"/>
<line x1="77.6" y1="393.40" x2="86.89999999999999" y2="393.40" stroke="#8f8a93" stroke-width="1.5"/>
<line x1="77.6" y1="411.88" x2="83.89999999999999" y2="411.88" stroke="#8f8a93" stroke-width="1.5"/>
<line x1="77.6" y1="430.36" x2="83.89999999999999" y2="430.36" stroke="#8f8a93" stroke-width="1.5"/>
<line x1="77.6" y1="448.84" x2="83.89999999999999" y2="448.84" stroke="#8f8a93" stroke-width="1.5"/>
<line x1="77.6" y1="467.32" x2="83.89999999999999" y2="467.32" stroke="#8f8a93" stroke-width="1.5"/>
<line x1="77.6" y1="485.80" x2="87.5" y2="485.80" stroke="#8f8a93" stroke-width="1.5"/>
<line x1="77.6" y1="504.28" x2="83.89999999999999" y2="504.28" stroke="#8f8a93" stroke-width="1.5"/>
<line x1="77.6" y1="522.76" x2="83.89999999999999" y2="522.76" stroke="#8f8a93" stroke-width="1.5"/>
<line x1="77.6" y1="541.24" x2="83.89999999999999" y2="541.24" stroke="#8f8a93" stroke-width="1.5"/>
<line x1="77.6" y1="559.72" x2="83.89999999999999" y2="559.72" stroke="#8f8a93" stroke-width="1.5"/>
<line x1="77.6" y1="578.20" x2="86.89999999999999" y2="578.20" stroke="#8f8a93" stroke-width="1.5"/>
<line x1="77.6" y1="596.68" x2="83.89999999999999" y2="596.68" stroke="#8f8a93" stroke-width="1.5"/>
<line x1="77.6" y1="615.16" x2="83.89999999999999" y2="615.16" stroke="#8f8a93" stroke-width="1.5"/>
<line x1="77.6" y1="633.64" x2="83.89999999999999" y2="633.64" stroke="#8f8a93" stroke-width="1.5"/>
<line x1="77.6" y1="652.12" x2="83.89999999999999" y2="652.12" stroke="#8f8a93" stroke-width="1.5"/>
<line x1="77.6" y1="670.60" x2="87.5" y2="670.60" stroke="#8f8a93" stroke-width="1.5"/>
<line x1="77.6" y1="689.08" x2="83.89999999999999" y2="689.08" stroke="#8f8a93" stroke-width="1.5"/>
<line x1="77.6" y1="707.56" x2="83.89999999999999" y2="707.56" stroke="#8f8a93" stroke-width="1.5"/>
<line x1="77.6" y1="726.04" x2="83.89999999999999" y2="726.04" stroke="#8f8a93" stroke-width="1.5"/>
<line x1="77.6" y1="744.52" x2="83.89999999999999" y2="744.52" stroke="#8f8a93" stroke-width="1.5"/>
<text x="84.5" y="217.5" font-size="30.4" font-weight="normal" text-anchor="start" >6</text>
<text x="84.5" y="403.5" font-size="30.4" font-weight="normal" text-anchor="start" >4</text>
<text x="84.5" y="591.3" font-size="30.4" font-weight="normal" text-anchor="start" >2</text>
<text x="98.69999999999999" y="487.5" font-size="29.4">x10<tspan dx="0.6" dy="-19" font-size="16.4">5</tspan></text>
<rect x="962.2" y="208.1" width="13.5" height="548.4" fill="url(#cbar)"/>
<line x1="975.2" y1="208.60" x2="984.5" y2="208.60" stroke="#8f8a93" stroke-width="1.5"/>
<line x1="975.2" y1="227.08" x2="981.5" y2="227.08" stroke="#8f8a93" stroke-width="1.5"/>
<line x1="975.2" y1="245.56" x2="981.5" y2="245.56" stroke="#8f8a93" stroke-width="1.5"/>
<line x1="975.2" y1="264.04" x2="981.5" y2="264.04" stroke="#8f8a93" stroke-width="1.5"/>
<line x1="975.2" y1="282.52" x2="981.5" y2="282.52" stroke="#8f8a93" stroke-width="1.5"/>
<line x1="975.2" y1="301.00" x2="985.1" y2="301.00" stroke="#8f8a93" stroke-width="1.5"/>
<line x1="975.2" y1="319.48" x2="981.5" y2="319.48" stroke="#8f8a93" stroke-width="1.5"/>
<line x1="975.2" y1="337.96" x2="981.5" y2="337.96" stroke="#8f8a93" stroke-width="1.5"/>
<line x1="975.2" y1="356.44" x2="981.5" y2="356.44" stroke="#8f8a93" stroke-width="1.5"/>
<line x1="975.2" y1="374.92" x2="981.5" y2="374.92" stroke="#8f8a93" stroke-width="1.5"/>
<line x1="975.2" y1="393.40" x2="984.5" y2="393.40" stroke="#8f8a93" stroke-width="1.5"/>
<line x1="975.2" y1="411.88" x2="981.5" y2="411.88" stroke="#8f8a93" stroke-width="1.5"/>
<line x1="975.2" y1="430.36" x2="981.5" y2="430.36" stroke="#8f8a93" stroke-width="1.5"/>
<line x1="975.2" y1="448.84" x2="981.5" y2="448.84" stroke="#8f8a93" stroke-width="1.5"/>
<line x1="975.2" y1="467.32" x2="981.5" y2="467.32" stroke="#8f8a93" stroke-width="1.5"/>
<line x1="975.2" y1="485.80" x2="985.1" y2="485.80" stroke="#8f8a93" stroke-width="1.5"/>
<line x1="975.2" y1="504.28" x2="981.5" y2="504.28" stroke="#8f8a93" stroke-width="1.5"/>
<line x1="975.2" y1="522.76" x2="981.5" y2="522.76" stroke="#8f8a93" stroke-width="1.5"/>
<line x1="975.2" y1="541.24" x2="981.5" y2="541.24" stroke="#8f8a93" stroke-width="1.5"/>
<line x1="975.2" y1="559.72" x2="981.5" y2="559.72" stroke="#8f8a93" stroke-width="1.5"/>
<line x1="975.2" y1="578.20" x2="984.5" y2="578.20" stroke="#8f8a93" stroke-width="1.5"/>
<line x1="975.2" y1="596.68" x2="981.5" y2="596.68" stroke="#8f8a93" stroke-width="1.5"/>
<line x1="975.2" y1="615.16" x2="981.5" y2="615.16" stroke="#8f8a93" stroke-width="1.5"/>
<line x1="975.2" y1="633.64" x2="981.5" y2="633.64" stroke="#8f8a93" stroke-width="1.5"/>
<line x1="975.2" y1="652.12" x2="981.5" y2="652.12" stroke="#8f8a93" stroke-width="1.5"/>
<line x1="975.2" y1="670.60" x2="985.1" y2="670.60" stroke="#8f8a93" stroke-width="1.5"/>
<line x1="975.2" y1="689.08" x2="981.5" y2="689.08" stroke="#8f8a93" stroke-width="1.5"/>
<line x1="975.2" y1="707.56" x2="981.5" y2="707.56" stroke="#8f8a93" stroke-width="1.5"/>
<line x1="975.2" y1="726.04" x2="981.5" y2="726.04" stroke="#8f8a93" stroke-width="1.5"/>
<line x1="975.2" y1="744.52" x2="981.5" y2="744.52" stroke="#8f8a93" stroke-width="1.5"/>
<text x="982.1" y="217.5" font-size="30.4" font-weight="normal" text-anchor="start" >3</text>
<text x="982.1" y="403.5" font-size="30.4" font-weight="normal" text-anchor="start" >2</text>
<text x="982.1" y="587.2" font-size="30.4" font-weight="normal" text-anchor="start" >1</text>
<text x="996.3000000000001" y="487.5" font-size="29.4">x10<tspan dx="0.6" dy="-19" font-size="16.4">6</tspan></text>
<g stroke="#000" stroke-width="4.8" fill="none">
<path d="M1257.3,25.31V332.9"/>
<path d="M1245.0,330.5H1713.3"/>
<path d="M1245.0,229.57H1257.3"/>
<path d="M1245.0,128.64H1257.3"/>
<path d="M1245.0,27.71H1257.3"/>
<path d="M1257.3,330.5V342.4"/>
<path d="M1332.9,330.5V342.4"/>
<path d="M1408.5,330.5V342.4"/>
<path d="M1484.1,330.5V342.4"/>
<path d="M1559.7,330.5V342.4"/>
<path d="M1635.3,330.5V342.4"/>
<path d="M1710.9,330.5V342.4"/>
</g>
<text x="1257.6" y="363.7" font-size="23.3" font-weight="bold" text-anchor="middle" >0</text>
<text x="1333.2" y="363.7" font-size="23.3" font-weight="bold" text-anchor="middle" >10</text>
<text x="1408.8" y="363.7" font-size="23.3" font-weight="bold" text-anchor="middle" >20</text>
<text x="1484.4" y="363.7" font-size="23.3" font-weight="bold" text-anchor="middle" >30</text>
<text x="1560.0" y="363.7" font-size="23.3" font-weight="bold" text-anchor="middle" >40</text>
<text x="1635.6" y="363.7" font-size="23.3" font-weight="bold" text-anchor="middle" >50</text>
<text x="1711.2" y="363.7" font-size="23.3" font-weight="bold" text-anchor="middle" >60</text>
<text x="1243.7" y="338.6" font-size="23.3" font-weight="bold" text-anchor="end" >0</text>
<text x="1243.7" y="239.2" font-size="23.3" font-weight="bold" text-anchor="end">1<tspan dx="-0.8">×</tspan><tspan dx="-0.8">10</tspan><tspan dy="-8.6" font-size="17.6">10</tspan></text>
<text x="1243.7" y="138.2" font-size="23.3" font-weight="bold" text-anchor="end">2<tspan dx="-0.8">×</tspan><tspan dx="-0.8">10</tspan><tspan dy="-8.6" font-size="17.6">10</tspan></text>
<text x="1243.7" y="37.3" font-size="23.3" font-weight="bold" text-anchor="end">3<tspan dx="-0.8">×</tspan><tspan dx="-0.8">10</tspan><tspan dy="-8.6" font-size="17.6">10</tspan></text>
<text x="1503.7" y="423.4" font-size="26.5" font-weight="bold" text-anchor="middle" >Days Post Implant</text>
<text transform="translate(1159.6,172.1) rotate(-90)" font-size="25.8" font-weight="bold" text-anchor="middle">Radiance (p/sec/cm^2/sr)</text>
<path d="M1680.7,229.3V306.6M1674.3,229.3H1687.1M1674.3,306.6H1687.1" stroke="#4056a5" stroke-width="2.6" stroke-linecap="round" fill="none"/>
<polyline points="1363.1,330.4 1416.1,330.4 1469.0,330.4 1680.7,267.9" fill="none" stroke="#4056a5" stroke-width="4.6" stroke-linejoin="round"/>
<circle cx="1363.1" cy="330.4" r="6.3" fill="#4056a5"/>
<circle cx="1416.1" cy="330.4" r="6.3" fill="#4056a5"/>
<circle cx="1469.0" cy="330.4" r="6.3" fill="#4056a5"/>
<circle cx="1680.7" cy="267.9" r="6.3" fill="#4056a5"/>
<path d="M1363.1,323.3V293.8M1356.7,323.3H1369.5M1356.7,293.8H1369.5" stroke="#ea3323" stroke-width="2.6" stroke-linecap="round" fill="none"/>
<path d="M1416.1,301V258.3M1409.7,301H1422.5M1409.7,258.3H1422.5" stroke="#ea3323" stroke-width="2.6" stroke-linecap="round" fill="none"/>
<path d="M1469.0,290.8V154.5M1462.6,290.8H1475.4M1462.6,154.5H1475.4" stroke="#ea3323" stroke-width="2.6" stroke-linecap="round" fill="none"/>
<path d="M1521.9,257.2V29.5M1515.5,257.2H1528.3M1515.5,29.5H1528.3" stroke="#ea3323" stroke-width="2.6" stroke-linecap="round" fill="none"/>
<polyline points="1310.2,329.4 1363.1,308.6 1416.1,279.6 1469.0,222.2 1521.9,143.9" fill="none" stroke="#ea3323" stroke-width="4.6" stroke-linejoin="round"/>
<rect x="1304.0" y="323.2" width="12.4" height="12.4" fill="#ea3323"/>
<rect x="1356.9" y="302.4" width="12.4" height="12.4" fill="#ea3323"/>
<rect x="1409.9" y="273.4" width="12.4" height="12.4" fill="#ea3323"/>
<rect x="1462.8" y="216.0" width="12.4" height="12.4" fill="#ea3323"/>
<rect x="1515.7" y="137.7" width="12.4" height="12.4" fill="#ea3323"/>
<line x1="1586.1" y1="49.1" x2="1618.7" y2="49.1" stroke="#4056a5" stroke-width="4.6" stroke-linecap="round"/><circle cx="1602.3" cy="49.1" r="6.3" fill="#4056a5"/>
<line x1="1586.1" y1="85.3" x2="1618.7" y2="85.3" stroke="#ea3323" stroke-width="4.6" stroke-linecap="round"/><rect x="1596.1" y="79.1" width="12.4" height="12.4" fill="#ea3323"/>
<text x="1636.4" y="57.6" font-size="25.3" font-weight="normal" text-anchor="start" >ANBL-6</text>
<text x="1636.0" y="94.0" font-size="25.3" font-weight="normal" text-anchor="start" >MM.1S</text>
<g stroke="#000" stroke-width="4.8" fill="none">
<path d="M1241.5,466.4V796.6999999999999"/>
<path d="M1228.8,794.3H1736.5"/>
<path d="M1228.8,645.1H1241.5"/>
<path d="M1228.8,495.9H1241.5"/>
<path d="M1241.5,794.3V807.5"/>
<path d="M1364.6,794.3V807.5"/>
<path d="M1487.8,794.3V807.5"/>
<path d="M1610.9,794.3V807.5"/>
<path d="M1734.1,794.3V807.5"/>
</g>
<text x="1241.3" y="831" font-size="25" font-weight="bold" text-anchor="middle" >0</text>
<text x="1364.4" y="831" font-size="25" font-weight="bold" text-anchor="middle" >20</text>
<text x="1487.6" y="831" font-size="25" font-weight="bold" text-anchor="middle" >40</text>
<text x="1610.7" y="831" font-size="25" font-weight="bold" text-anchor="middle" >60</text>
<text x="1747.7" y="831" font-size="25" font-weight="bold" text-anchor="end" >80</text>
<text x="1227.9" y="803.5" font-size="24.8" font-weight="bold" text-anchor="end" >0</text>
<text x="1227.9" y="654.3" font-size="24.8" font-weight="bold" text-anchor="end" >50</text>
<text x="1227.9" y="505.1" font-size="24.8" font-weight="bold" text-anchor="end" >100</text>
<text x="1488.7" y="879" font-size="26.5" font-weight="bold" text-anchor="middle" >Days Post Implant</text>
<text transform="translate(1159.6,634) rotate(-90)" font-size="26.1" font-weight="bold" text-anchor="middle">Percent survival</text>
<polyline points="1241.5,495.9 1647.9,495.9 1647.9,570.5 1660.2,570.5 1660.2,645.1 1666.3,645.1 1666.3,796.7" fill="none" stroke="#4056a5" stroke-width="4.9" stroke-linejoin="miter"/>
<polyline points="1241.5,495.9 1450.8,495.9 1450.8,545.7 1469.3,545.7 1469.3,595.3 1475.5,595.3 1475.5,796.7" fill="none" stroke="#ea3323" stroke-width="4.9" stroke-linejoin="miter"/>
<circle cx="1241.5" cy="495.9" r="2.45" fill="#ea3323"/>
<line x1="1300" y1="640.2" x2="1333.5" y2="640.2" stroke="#4056a5" stroke-width="5" stroke-linecap="round"/>
<line x1="1300" y1="672.4" x2="1333.5" y2="672.4" stroke="#ea3323" stroke-width="5" stroke-linecap="round"/>
<text x="1354.0" y="648.8" font-size="27.4" font-weight="normal" text-anchor="start" >ANBL-6</text>
<text x="1353.2" y="680.8" font-size="27.4" font-weight="normal" text-anchor="start" >MM.1S</text>
<text x="1502.3" y="548.5" font-size="26.2"><tspan font-style="italic">p</tspan> = 0.0017</text>
</svg>
</body></html>
